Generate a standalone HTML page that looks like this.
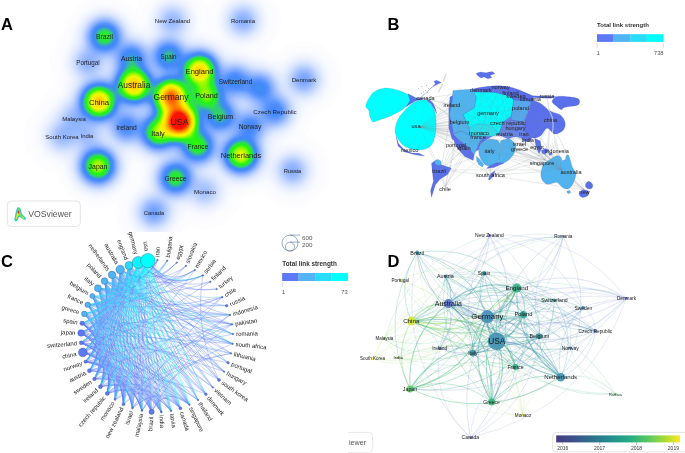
<!DOCTYPE html><html><head><meta charset="utf-8"><title>Figure</title>
<style>html,body{margin:0;padding:0;background:#fff}svg{display:block}.pl{mix-blend-mode:plus-lighter}radialGradient stop{stop-color:#fff}</style></head><body>
<svg width="685" height="453" viewBox="0 0 685 453">
<defs>
<radialGradient id="blob"><stop offset="0.0000" stop-opacity="0.9983"/><stop offset="0.0312" stop-opacity="0.9880"/><stop offset="0.0625" stop-opacity="0.9580"/><stop offset="0.0938" stop-opacity="0.9100"/><stop offset="0.1250" stop-opacity="0.8468"/><stop offset="0.1562" stop-opacity="0.7721"/><stop offset="0.1875" stop-opacity="0.6897"/><stop offset="0.2188" stop-opacity="0.6038"/><stop offset="0.2500" stop-opacity="0.5181"/><stop offset="0.2812" stop-opacity="0.4359"/><stop offset="0.3125" stop-opacity="0.3596"/><stop offset="0.3438" stop-opacity="0.2910"/><stop offset="0.3750" stop-opacity="0.2312"/><stop offset="0.4062" stop-opacity="0.1804"/><stop offset="0.4375" stop-opacity="0.1384"/><stop offset="0.4688" stop-opacity="0.1045"/><stop offset="0.5000" stop-opacity="0.0778"/><stop offset="0.5312" stop-opacity="0.0572"/><stop offset="0.5625" stop-opacity="0.0417"/><stop offset="0.5938" stop-opacity="0.0302"/><stop offset="0.6250" stop-opacity="0.0218"/><stop offset="0.6562" stop-opacity="0.0158"/><stop offset="0.6875" stop-opacity="0.0114"/><stop offset="0.7188" stop-opacity="0.0083"/><stop offset="0.7500" stop-opacity="0.0061"/><stop offset="0.7812" stop-opacity="0.0045"/><stop offset="0.8125" stop-opacity="0.0033"/><stop offset="0.8438" stop-opacity="0.0024"/><stop offset="0.8750" stop-opacity="0.0017"/><stop offset="0.9062" stop-opacity="0.0012"/><stop offset="0.9375" stop-opacity="0.0007"/><stop offset="0.9688" stop-opacity="0.0003"/><stop offset="1.0000" stop-opacity="0.0000"/></radialGradient>
<radialGradient id="b0"><stop offset="0.000" stop-opacity="1.0000"/><stop offset="0.475" stop-opacity="1.0000"/><stop offset="0.500" stop-opacity="0.7905"/><stop offset="0.525" stop-opacity="0.6189"/><stop offset="0.550" stop-opacity="0.4815"/><stop offset="0.575" stop-opacity="0.3727"/><stop offset="0.600" stop-opacity="0.2876"/><stop offset="0.625" stop-opacity="0.2216"/><stop offset="0.650" stop-opacity="0.1708"/><stop offset="0.675" stop-opacity="0.1320"/><stop offset="0.700" stop-opacity="0.1023"/><stop offset="0.725" stop-opacity="0.0797"/><stop offset="0.750" stop-opacity="0.0624"/><stop offset="0.775" stop-opacity="0.0489"/><stop offset="0.800" stop-opacity="0.0384"/><stop offset="0.825" stop-opacity="0.0300"/><stop offset="0.850" stop-opacity="0.0233"/><stop offset="0.875" stop-opacity="0.0177"/><stop offset="0.900" stop-opacity="0.0130"/><stop offset="0.925" stop-opacity="0.0090"/><stop offset="0.950" stop-opacity="0.0056"/><stop offset="0.975" stop-opacity="0.0026"/><stop offset="1.000" stop-opacity="0.0000"/></radialGradient><radialGradient id="b1"><stop offset="0.000" stop-opacity="1.0000"/><stop offset="0.425" stop-opacity="1.0000"/><stop offset="0.450" stop-opacity="0.8326"/><stop offset="0.475" stop-opacity="0.6627"/><stop offset="0.500" stop-opacity="0.5229"/><stop offset="0.525" stop-opacity="0.4094"/><stop offset="0.550" stop-opacity="0.3184"/><stop offset="0.575" stop-opacity="0.2465"/><stop offset="0.600" stop-opacity="0.1902"/><stop offset="0.625" stop-opacity="0.1466"/><stop offset="0.650" stop-opacity="0.1130"/><stop offset="0.675" stop-opacity="0.0873"/><stop offset="0.700" stop-opacity="0.0677"/><stop offset="0.725" stop-opacity="0.0527"/><stop offset="0.750" stop-opacity="0.0412"/><stop offset="0.775" stop-opacity="0.0324"/><stop offset="0.800" stop-opacity="0.0254"/><stop offset="0.825" stop-opacity="0.0199"/><stop offset="0.850" stop-opacity="0.0154"/><stop offset="0.875" stop-opacity="0.0117"/><stop offset="0.900" stop-opacity="0.0086"/><stop offset="0.925" stop-opacity="0.0060"/><stop offset="0.950" stop-opacity="0.0037"/><stop offset="0.975" stop-opacity="0.0017"/><stop offset="1.000" stop-opacity="0.0000"/></radialGradient><radialGradient id="b2"><stop offset="0.000" stop-opacity="1.0000"/><stop offset="0.375" stop-opacity="1.0000"/><stop offset="0.400" stop-opacity="0.9111"/><stop offset="0.425" stop-opacity="0.7399"/><stop offset="0.450" stop-opacity="0.5947"/><stop offset="0.475" stop-opacity="0.4734"/><stop offset="0.500" stop-opacity="0.3735"/><stop offset="0.525" stop-opacity="0.2924"/><stop offset="0.550" stop-opacity="0.2275"/><stop offset="0.575" stop-opacity="0.1761"/><stop offset="0.600" stop-opacity="0.1359"/><stop offset="0.625" stop-opacity="0.1047"/><stop offset="0.650" stop-opacity="0.0807"/><stop offset="0.675" stop-opacity="0.0624"/><stop offset="0.700" stop-opacity="0.0484"/><stop offset="0.725" stop-opacity="0.0377"/><stop offset="0.750" stop-opacity="0.0295"/><stop offset="0.775" stop-opacity="0.0231"/><stop offset="0.800" stop-opacity="0.0181"/><stop offset="0.825" stop-opacity="0.0142"/><stop offset="0.850" stop-opacity="0.0110"/><stop offset="0.875" stop-opacity="0.0084"/><stop offset="0.900" stop-opacity="0.0061"/><stop offset="0.925" stop-opacity="0.0043"/><stop offset="0.950" stop-opacity="0.0026"/><stop offset="0.975" stop-opacity="0.0012"/><stop offset="1.000" stop-opacity="0.0000"/></radialGradient><radialGradient id="b3"><stop offset="0.000" stop-opacity="1.0000"/><stop offset="0.400" stop-opacity="1.0000"/><stop offset="0.425" stop-opacity="0.8139"/><stop offset="0.450" stop-opacity="0.6542"/><stop offset="0.475" stop-opacity="0.5207"/><stop offset="0.500" stop-opacity="0.4108"/><stop offset="0.525" stop-opacity="0.3216"/><stop offset="0.550" stop-opacity="0.2502"/><stop offset="0.575" stop-opacity="0.1937"/><stop offset="0.600" stop-opacity="0.1494"/><stop offset="0.625" stop-opacity="0.1152"/><stop offset="0.650" stop-opacity="0.0888"/><stop offset="0.675" stop-opacity="0.0686"/><stop offset="0.700" stop-opacity="0.0532"/><stop offset="0.725" stop-opacity="0.0414"/><stop offset="0.750" stop-opacity="0.0324"/><stop offset="0.775" stop-opacity="0.0254"/><stop offset="0.800" stop-opacity="0.0200"/><stop offset="0.825" stop-opacity="0.0156"/><stop offset="0.850" stop-opacity="0.0121"/><stop offset="0.875" stop-opacity="0.0092"/><stop offset="0.900" stop-opacity="0.0068"/><stop offset="0.925" stop-opacity="0.0047"/><stop offset="0.950" stop-opacity="0.0029"/><stop offset="0.975" stop-opacity="0.0014"/><stop offset="1.000" stop-opacity="0.0000"/></radialGradient><radialGradient id="b4"><stop offset="0.000" stop-opacity="1.0000"/><stop offset="0.375" stop-opacity="1.0000"/><stop offset="0.400" stop-opacity="0.9718"/><stop offset="0.425" stop-opacity="0.7893"/><stop offset="0.450" stop-opacity="0.6344"/><stop offset="0.475" stop-opacity="0.5049"/><stop offset="0.500" stop-opacity="0.3984"/><stop offset="0.525" stop-opacity="0.3119"/><stop offset="0.550" stop-opacity="0.2426"/><stop offset="0.575" stop-opacity="0.1878"/><stop offset="0.600" stop-opacity="0.1449"/><stop offset="0.625" stop-opacity="0.1117"/><stop offset="0.650" stop-opacity="0.0861"/><stop offset="0.675" stop-opacity="0.0665"/><stop offset="0.700" stop-opacity="0.0516"/><stop offset="0.725" stop-opacity="0.0402"/><stop offset="0.750" stop-opacity="0.0314"/><stop offset="0.775" stop-opacity="0.0247"/><stop offset="0.800" stop-opacity="0.0193"/><stop offset="0.825" stop-opacity="0.0151"/><stop offset="0.850" stop-opacity="0.0117"/><stop offset="0.875" stop-opacity="0.0089"/><stop offset="0.900" stop-opacity="0.0066"/><stop offset="0.925" stop-opacity="0.0045"/><stop offset="0.950" stop-opacity="0.0028"/><stop offset="0.975" stop-opacity="0.0013"/><stop offset="1.000" stop-opacity="0.0000"/></radialGradient><radialGradient id="b5"><stop offset="0.000" stop-opacity="1.0000"/><stop offset="0.350" stop-opacity="1.0000"/><stop offset="0.375" stop-opacity="0.8692"/><stop offset="0.400" stop-opacity="0.7137"/><stop offset="0.425" stop-opacity="0.5796"/><stop offset="0.450" stop-opacity="0.4659"/><stop offset="0.475" stop-opacity="0.3708"/><stop offset="0.500" stop-opacity="0.2926"/><stop offset="0.525" stop-opacity="0.2290"/><stop offset="0.550" stop-opacity="0.1782"/><stop offset="0.575" stop-opacity="0.1379"/><stop offset="0.600" stop-opacity="0.1064"/><stop offset="0.625" stop-opacity="0.0820"/><stop offset="0.650" stop-opacity="0.0632"/><stop offset="0.675" stop-opacity="0.0488"/><stop offset="0.700" stop-opacity="0.0379"/><stop offset="0.725" stop-opacity="0.0295"/><stop offset="0.750" stop-opacity="0.0231"/><stop offset="0.775" stop-opacity="0.0181"/><stop offset="0.800" stop-opacity="0.0142"/><stop offset="0.825" stop-opacity="0.0111"/><stop offset="0.850" stop-opacity="0.0086"/><stop offset="0.875" stop-opacity="0.0065"/><stop offset="0.900" stop-opacity="0.0048"/><stop offset="0.925" stop-opacity="0.0033"/><stop offset="0.950" stop-opacity="0.0021"/><stop offset="0.975" stop-opacity="0.0010"/><stop offset="1.000" stop-opacity="0.0000"/></radialGradient><radialGradient id="b6"><stop offset="0.000" stop-opacity="1.0000"/><stop offset="0.325" stop-opacity="1.0000"/><stop offset="0.350" stop-opacity="0.9129"/><stop offset="0.375" stop-opacity="0.7582"/><stop offset="0.400" stop-opacity="0.6226"/><stop offset="0.425" stop-opacity="0.5056"/><stop offset="0.450" stop-opacity="0.4064"/><stop offset="0.475" stop-opacity="0.3235"/><stop offset="0.500" stop-opacity="0.2552"/><stop offset="0.525" stop-opacity="0.1998"/><stop offset="0.550" stop-opacity="0.1554"/><stop offset="0.575" stop-opacity="0.1203"/><stop offset="0.600" stop-opacity="0.0928"/><stop offset="0.625" stop-opacity="0.0715"/><stop offset="0.650" stop-opacity="0.0551"/><stop offset="0.675" stop-opacity="0.0426"/><stop offset="0.700" stop-opacity="0.0330"/><stop offset="0.725" stop-opacity="0.0257"/><stop offset="0.750" stop-opacity="0.0201"/><stop offset="0.775" stop-opacity="0.0158"/><stop offset="0.800" stop-opacity="0.0124"/><stop offset="0.825" stop-opacity="0.0097"/><stop offset="0.850" stop-opacity="0.0075"/><stop offset="0.875" stop-opacity="0.0057"/><stop offset="0.900" stop-opacity="0.0042"/><stop offset="0.925" stop-opacity="0.0029"/><stop offset="0.950" stop-opacity="0.0018"/><stop offset="0.975" stop-opacity="0.0008"/><stop offset="1.000" stop-opacity="0.0000"/></radialGradient><radialGradient id="b7"><stop offset="0.000" stop-opacity="1.0000"/><stop offset="0.300" stop-opacity="1.0000"/><stop offset="0.325" stop-opacity="0.9007"/><stop offset="0.350" stop-opacity="0.7570"/><stop offset="0.375" stop-opacity="0.6288"/><stop offset="0.400" stop-opacity="0.5163"/><stop offset="0.425" stop-opacity="0.4193"/><stop offset="0.450" stop-opacity="0.3370"/><stop offset="0.475" stop-opacity="0.2682"/><stop offset="0.500" stop-opacity="0.2116"/><stop offset="0.525" stop-opacity="0.1657"/><stop offset="0.550" stop-opacity="0.1289"/><stop offset="0.575" stop-opacity="0.0998"/><stop offset="0.600" stop-opacity="0.0770"/><stop offset="0.625" stop-opacity="0.0593"/><stop offset="0.650" stop-opacity="0.0457"/><stop offset="0.675" stop-opacity="0.0353"/><stop offset="0.700" stop-opacity="0.0274"/><stop offset="0.725" stop-opacity="0.0213"/><stop offset="0.750" stop-opacity="0.0167"/><stop offset="0.775" stop-opacity="0.0131"/><stop offset="0.800" stop-opacity="0.0103"/><stop offset="0.825" stop-opacity="0.0080"/><stop offset="0.850" stop-opacity="0.0062"/><stop offset="0.875" stop-opacity="0.0047"/><stop offset="0.900" stop-opacity="0.0035"/><stop offset="0.925" stop-opacity="0.0024"/><stop offset="0.950" stop-opacity="0.0015"/><stop offset="0.975" stop-opacity="0.0007"/><stop offset="1.000" stop-opacity="0.0000"/></radialGradient><radialGradient id="b8"><stop offset="0.000" stop-opacity="1.0000"/><stop offset="0.300" stop-opacity="1.0000"/><stop offset="0.325" stop-opacity="0.9537"/><stop offset="0.350" stop-opacity="0.8016"/><stop offset="0.375" stop-opacity="0.6658"/><stop offset="0.400" stop-opacity="0.5467"/><stop offset="0.425" stop-opacity="0.4440"/><stop offset="0.450" stop-opacity="0.3568"/><stop offset="0.475" stop-opacity="0.2840"/><stop offset="0.500" stop-opacity="0.2241"/><stop offset="0.525" stop-opacity="0.1754"/><stop offset="0.550" stop-opacity="0.1365"/><stop offset="0.575" stop-opacity="0.1056"/><stop offset="0.600" stop-opacity="0.0815"/><stop offset="0.625" stop-opacity="0.0628"/><stop offset="0.650" stop-opacity="0.0484"/><stop offset="0.675" stop-opacity="0.0374"/><stop offset="0.700" stop-opacity="0.0290"/><stop offset="0.725" stop-opacity="0.0226"/><stop offset="0.750" stop-opacity="0.0177"/><stop offset="0.775" stop-opacity="0.0139"/><stop offset="0.800" stop-opacity="0.0109"/><stop offset="0.825" stop-opacity="0.0085"/><stop offset="0.850" stop-opacity="0.0066"/><stop offset="0.875" stop-opacity="0.0050"/><stop offset="0.900" stop-opacity="0.0037"/><stop offset="0.925" stop-opacity="0.0026"/><stop offset="0.950" stop-opacity="0.0016"/><stop offset="0.975" stop-opacity="0.0007"/><stop offset="1.000" stop-opacity="0.0000"/></radialGradient><radialGradient id="b9"><stop offset="0.000" stop-opacity="1.0000"/><stop offset="0.250" stop-opacity="1.0000"/><stop offset="0.275" stop-opacity="0.9762"/><stop offset="0.300" stop-opacity="0.8408"/><stop offset="0.325" stop-opacity="0.7153"/><stop offset="0.350" stop-opacity="0.6012"/><stop offset="0.375" stop-opacity="0.4993"/><stop offset="0.400" stop-opacity="0.4100"/><stop offset="0.425" stop-opacity="0.3330"/><stop offset="0.450" stop-opacity="0.2676"/><stop offset="0.475" stop-opacity="0.2130"/><stop offset="0.500" stop-opacity="0.1681"/><stop offset="0.525" stop-opacity="0.1316"/><stop offset="0.550" stop-opacity="0.1024"/><stop offset="0.575" stop-opacity="0.0792"/><stop offset="0.600" stop-opacity="0.0611"/><stop offset="0.625" stop-opacity="0.0471"/><stop offset="0.650" stop-opacity="0.0363"/><stop offset="0.675" stop-opacity="0.0281"/><stop offset="0.700" stop-opacity="0.0218"/><stop offset="0.725" stop-opacity="0.0169"/><stop offset="0.750" stop-opacity="0.0133"/><stop offset="0.775" stop-opacity="0.0104"/><stop offset="0.800" stop-opacity="0.0082"/><stop offset="0.825" stop-opacity="0.0064"/><stop offset="0.850" stop-opacity="0.0049"/><stop offset="0.875" stop-opacity="0.0038"/><stop offset="0.900" stop-opacity="0.0028"/><stop offset="0.925" stop-opacity="0.0019"/><stop offset="0.950" stop-opacity="0.0012"/><stop offset="0.975" stop-opacity="0.0006"/><stop offset="1.000" stop-opacity="0.0000"/></radialGradient><radialGradient id="b10"><stop offset="0.000" stop-opacity="1.0000"/><stop offset="0.275" stop-opacity="1.0000"/><stop offset="0.300" stop-opacity="0.9031"/><stop offset="0.325" stop-opacity="0.7683"/><stop offset="0.350" stop-opacity="0.6457"/><stop offset="0.375" stop-opacity="0.5363"/><stop offset="0.400" stop-opacity="0.4404"/><stop offset="0.425" stop-opacity="0.3576"/><stop offset="0.450" stop-opacity="0.2874"/><stop offset="0.475" stop-opacity="0.2288"/><stop offset="0.500" stop-opacity="0.1805"/><stop offset="0.525" stop-opacity="0.1413"/><stop offset="0.550" stop-opacity="0.1099"/><stop offset="0.575" stop-opacity="0.0851"/><stop offset="0.600" stop-opacity="0.0657"/><stop offset="0.625" stop-opacity="0.0506"/><stop offset="0.650" stop-opacity="0.0390"/><stop offset="0.675" stop-opacity="0.0301"/><stop offset="0.700" stop-opacity="0.0234"/><stop offset="0.725" stop-opacity="0.0182"/><stop offset="0.750" stop-opacity="0.0142"/><stop offset="0.775" stop-opacity="0.0112"/><stop offset="0.800" stop-opacity="0.0088"/><stop offset="0.825" stop-opacity="0.0069"/><stop offset="0.850" stop-opacity="0.0053"/><stop offset="0.875" stop-opacity="0.0040"/><stop offset="0.900" stop-opacity="0.0030"/><stop offset="0.925" stop-opacity="0.0021"/><stop offset="0.950" stop-opacity="0.0013"/><stop offset="0.975" stop-opacity="0.0006"/><stop offset="1.000" stop-opacity="0.0000"/></radialGradient><radialGradient id="b11"><stop offset="0.000" stop-opacity="1.0000"/><stop offset="0.200" stop-opacity="1.0000"/><stop offset="0.225" stop-opacity="0.9385"/><stop offset="0.250" stop-opacity="0.8290"/><stop offset="0.275" stop-opacity="0.7231"/><stop offset="0.300" stop-opacity="0.6228"/><stop offset="0.325" stop-opacity="0.5298"/><stop offset="0.350" stop-opacity="0.4453"/><stop offset="0.375" stop-opacity="0.3699"/><stop offset="0.400" stop-opacity="0.3037"/><stop offset="0.425" stop-opacity="0.2466"/><stop offset="0.450" stop-opacity="0.1982"/><stop offset="0.475" stop-opacity="0.1578"/><stop offset="0.500" stop-opacity="0.1245"/><stop offset="0.525" stop-opacity="0.0975"/><stop offset="0.550" stop-opacity="0.0758"/><stop offset="0.575" stop-opacity="0.0587"/><stop offset="0.600" stop-opacity="0.0453"/><stop offset="0.625" stop-opacity="0.0349"/><stop offset="0.650" stop-opacity="0.0269"/><stop offset="0.675" stop-opacity="0.0208"/><stop offset="0.700" stop-opacity="0.0161"/><stop offset="0.725" stop-opacity="0.0126"/><stop offset="0.750" stop-opacity="0.0098"/><stop offset="0.775" stop-opacity="0.0077"/><stop offset="0.800" stop-opacity="0.0060"/><stop offset="0.825" stop-opacity="0.0047"/><stop offset="0.850" stop-opacity="0.0037"/><stop offset="0.875" stop-opacity="0.0028"/><stop offset="0.900" stop-opacity="0.0020"/><stop offset="0.925" stop-opacity="0.0014"/><stop offset="0.950" stop-opacity="0.0009"/><stop offset="0.975" stop-opacity="0.0004"/><stop offset="1.000" stop-opacity="0.0000"/></radialGradient><radialGradient id="b12"><stop offset="0.000" stop-opacity="1.0000"/><stop offset="0.250" stop-opacity="1.0000"/><stop offset="0.275" stop-opacity="0.9762"/><stop offset="0.300" stop-opacity="0.8408"/><stop offset="0.325" stop-opacity="0.7153"/><stop offset="0.350" stop-opacity="0.6012"/><stop offset="0.375" stop-opacity="0.4993"/><stop offset="0.400" stop-opacity="0.4100"/><stop offset="0.425" stop-opacity="0.3330"/><stop offset="0.450" stop-opacity="0.2676"/><stop offset="0.475" stop-opacity="0.2130"/><stop offset="0.500" stop-opacity="0.1681"/><stop offset="0.525" stop-opacity="0.1316"/><stop offset="0.550" stop-opacity="0.1024"/><stop offset="0.575" stop-opacity="0.0792"/><stop offset="0.600" stop-opacity="0.0611"/><stop offset="0.625" stop-opacity="0.0471"/><stop offset="0.650" stop-opacity="0.0363"/><stop offset="0.675" stop-opacity="0.0281"/><stop offset="0.700" stop-opacity="0.0218"/><stop offset="0.725" stop-opacity="0.0169"/><stop offset="0.750" stop-opacity="0.0133"/><stop offset="0.775" stop-opacity="0.0104"/><stop offset="0.800" stop-opacity="0.0082"/><stop offset="0.825" stop-opacity="0.0064"/><stop offset="0.850" stop-opacity="0.0049"/><stop offset="0.875" stop-opacity="0.0038"/><stop offset="0.900" stop-opacity="0.0028"/><stop offset="0.925" stop-opacity="0.0019"/><stop offset="0.950" stop-opacity="0.0012"/><stop offset="0.975" stop-opacity="0.0006"/><stop offset="1.000" stop-opacity="0.0000"/></radialGradient><radialGradient id="b13"><stop offset="0.000" stop-opacity="1.0000"/><stop offset="0.200" stop-opacity="1.0000"/><stop offset="0.225" stop-opacity="0.9385"/><stop offset="0.250" stop-opacity="0.8290"/><stop offset="0.275" stop-opacity="0.7231"/><stop offset="0.300" stop-opacity="0.6228"/><stop offset="0.325" stop-opacity="0.5298"/><stop offset="0.350" stop-opacity="0.4453"/><stop offset="0.375" stop-opacity="0.3699"/><stop offset="0.400" stop-opacity="0.3037"/><stop offset="0.425" stop-opacity="0.2466"/><stop offset="0.450" stop-opacity="0.1982"/><stop offset="0.475" stop-opacity="0.1578"/><stop offset="0.500" stop-opacity="0.1245"/><stop offset="0.525" stop-opacity="0.0975"/><stop offset="0.550" stop-opacity="0.0758"/><stop offset="0.575" stop-opacity="0.0587"/><stop offset="0.600" stop-opacity="0.0453"/><stop offset="0.625" stop-opacity="0.0349"/><stop offset="0.650" stop-opacity="0.0269"/><stop offset="0.675" stop-opacity="0.0208"/><stop offset="0.700" stop-opacity="0.0161"/><stop offset="0.725" stop-opacity="0.0126"/><stop offset="0.750" stop-opacity="0.0098"/><stop offset="0.775" stop-opacity="0.0077"/><stop offset="0.800" stop-opacity="0.0060"/><stop offset="0.825" stop-opacity="0.0047"/><stop offset="0.850" stop-opacity="0.0037"/><stop offset="0.875" stop-opacity="0.0028"/><stop offset="0.900" stop-opacity="0.0020"/><stop offset="0.925" stop-opacity="0.0014"/><stop offset="0.950" stop-opacity="0.0009"/><stop offset="0.975" stop-opacity="0.0004"/><stop offset="1.000" stop-opacity="0.0000"/></radialGradient><radialGradient id="b14"><stop offset="0.000" stop-opacity="1.0000"/><stop offset="0.150" stop-opacity="1.0000"/><stop offset="0.175" stop-opacity="0.9837"/><stop offset="0.200" stop-opacity="0.8916"/><stop offset="0.225" stop-opacity="0.7977"/><stop offset="0.250" stop-opacity="0.7047"/><stop offset="0.275" stop-opacity="0.6146"/><stop offset="0.300" stop-opacity="0.5294"/><stop offset="0.325" stop-opacity="0.4504"/><stop offset="0.350" stop-opacity="0.3785"/><stop offset="0.375" stop-opacity="0.3144"/><stop offset="0.400" stop-opacity="0.2581"/><stop offset="0.425" stop-opacity="0.2096"/><stop offset="0.450" stop-opacity="0.1685"/><stop offset="0.475" stop-opacity="0.1341"/><stop offset="0.500" stop-opacity="0.1058"/><stop offset="0.525" stop-opacity="0.0828"/><stop offset="0.550" stop-opacity="0.0644"/><stop offset="0.575" stop-opacity="0.0499"/><stop offset="0.600" stop-opacity="0.0385"/><stop offset="0.625" stop-opacity="0.0297"/><stop offset="0.650" stop-opacity="0.0229"/><stop offset="0.675" stop-opacity="0.0177"/><stop offset="0.700" stop-opacity="0.0137"/><stop offset="0.725" stop-opacity="0.0107"/><stop offset="0.750" stop-opacity="0.0083"/><stop offset="0.775" stop-opacity="0.0065"/><stop offset="0.800" stop-opacity="0.0051"/><stop offset="0.825" stop-opacity="0.0040"/><stop offset="0.850" stop-opacity="0.0031"/><stop offset="0.875" stop-opacity="0.0024"/><stop offset="0.900" stop-opacity="0.0017"/><stop offset="0.925" stop-opacity="0.0012"/><stop offset="0.950" stop-opacity="0.0007"/><stop offset="0.975" stop-opacity="0.0003"/><stop offset="1.000" stop-opacity="0.0000"/></radialGradient><radialGradient id="b15"><stop offset="0.000" stop-opacity="1.0000"/><stop offset="0.100" stop-opacity="1.0000"/><stop offset="0.125" stop-opacity="0.9484"/><stop offset="0.150" stop-opacity="0.8823"/><stop offset="0.175" stop-opacity="0.8101"/><stop offset="0.200" stop-opacity="0.7343"/><stop offset="0.225" stop-opacity="0.6570"/><stop offset="0.250" stop-opacity="0.5803"/><stop offset="0.275" stop-opacity="0.5062"/><stop offset="0.300" stop-opacity="0.4360"/><stop offset="0.325" stop-opacity="0.3709"/><stop offset="0.350" stop-opacity="0.3117"/><stop offset="0.375" stop-opacity="0.2589"/><stop offset="0.400" stop-opacity="0.2126"/><stop offset="0.425" stop-opacity="0.1727"/><stop offset="0.450" stop-opacity="0.1388"/><stop offset="0.475" stop-opacity="0.1105"/><stop offset="0.500" stop-opacity="0.0871"/><stop offset="0.525" stop-opacity="0.0682"/><stop offset="0.550" stop-opacity="0.0531"/><stop offset="0.575" stop-opacity="0.0411"/><stop offset="0.600" stop-opacity="0.0317"/><stop offset="0.625" stop-opacity="0.0244"/><stop offset="0.650" stop-opacity="0.0188"/><stop offset="0.675" stop-opacity="0.0145"/><stop offset="0.700" stop-opacity="0.0113"/><stop offset="0.725" stop-opacity="0.0088"/><stop offset="0.750" stop-opacity="0.0069"/><stop offset="0.775" stop-opacity="0.0054"/><stop offset="0.800" stop-opacity="0.0042"/><stop offset="0.825" stop-opacity="0.0033"/><stop offset="0.850" stop-opacity="0.0026"/><stop offset="0.875" stop-opacity="0.0019"/><stop offset="0.900" stop-opacity="0.0014"/><stop offset="0.925" stop-opacity="0.0010"/><stop offset="0.950" stop-opacity="0.0006"/><stop offset="0.975" stop-opacity="0.0003"/><stop offset="1.000" stop-opacity="0.0000"/></radialGradient><radialGradient id="b16"><stop offset="0.000" stop-opacity="1.0000"/><stop offset="0.050" stop-opacity="1.0000"/><stop offset="0.075" stop-opacity="0.9784"/><stop offset="0.100" stop-opacity="0.9344"/><stop offset="0.125" stop-opacity="0.8807"/><stop offset="0.150" stop-opacity="0.8193"/><stop offset="0.175" stop-opacity="0.7522"/><stop offset="0.200" stop-opacity="0.6818"/><stop offset="0.225" stop-opacity="0.6100"/><stop offset="0.250" stop-opacity="0.5389"/><stop offset="0.275" stop-opacity="0.4700"/><stop offset="0.300" stop-opacity="0.4048"/><stop offset="0.325" stop-opacity="0.3444"/><stop offset="0.350" stop-opacity="0.2894"/><stop offset="0.375" stop-opacity="0.2404"/><stop offset="0.400" stop-opacity="0.1974"/><stop offset="0.425" stop-opacity="0.1603"/><stop offset="0.450" stop-opacity="0.1289"/><stop offset="0.475" stop-opacity="0.1026"/><stop offset="0.500" stop-opacity="0.0809"/><stop offset="0.525" stop-opacity="0.0634"/><stop offset="0.550" stop-opacity="0.0493"/><stop offset="0.575" stop-opacity="0.0381"/><stop offset="0.600" stop-opacity="0.0294"/><stop offset="0.625" stop-opacity="0.0227"/><stop offset="0.650" stop-opacity="0.0175"/><stop offset="0.675" stop-opacity="0.0135"/><stop offset="0.700" stop-opacity="0.0105"/><stop offset="0.725" stop-opacity="0.0082"/><stop offset="0.750" stop-opacity="0.0064"/><stop offset="0.775" stop-opacity="0.0050"/><stop offset="0.800" stop-opacity="0.0039"/><stop offset="0.825" stop-opacity="0.0031"/><stop offset="0.850" stop-opacity="0.0024"/><stop offset="0.875" stop-opacity="0.0018"/><stop offset="0.900" stop-opacity="0.0013"/><stop offset="0.925" stop-opacity="0.0009"/><stop offset="0.950" stop-opacity="0.0006"/><stop offset="0.975" stop-opacity="0.0003"/><stop offset="1.000" stop-opacity="0.0000"/></radialGradient><radialGradient id="b18"><stop offset="0.000" stop-opacity="1.0000"/><stop offset="0.075" stop-opacity="1.0000"/><stop offset="0.100" stop-opacity="0.9703"/><stop offset="0.125" stop-opacity="0.9145"/><stop offset="0.150" stop-opacity="0.8508"/><stop offset="0.175" stop-opacity="0.7812"/><stop offset="0.200" stop-opacity="0.7080"/><stop offset="0.225" stop-opacity="0.6335"/><stop offset="0.250" stop-opacity="0.5596"/><stop offset="0.275" stop-opacity="0.4881"/><stop offset="0.300" stop-opacity="0.4204"/><stop offset="0.325" stop-opacity="0.3576"/><stop offset="0.350" stop-opacity="0.3006"/><stop offset="0.375" stop-opacity="0.2497"/><stop offset="0.400" stop-opacity="0.2050"/><stop offset="0.425" stop-opacity="0.1665"/><stop offset="0.450" stop-opacity="0.1338"/><stop offset="0.475" stop-opacity="0.1065"/><stop offset="0.500" stop-opacity="0.0840"/><stop offset="0.525" stop-opacity="0.0658"/><stop offset="0.550" stop-opacity="0.0512"/><stop offset="0.575" stop-opacity="0.0396"/><stop offset="0.600" stop-opacity="0.0306"/><stop offset="0.625" stop-opacity="0.0236"/><stop offset="0.650" stop-opacity="0.0182"/><stop offset="0.675" stop-opacity="0.0140"/><stop offset="0.700" stop-opacity="0.0109"/><stop offset="0.725" stop-opacity="0.0085"/><stop offset="0.750" stop-opacity="0.0066"/><stop offset="0.775" stop-opacity="0.0052"/><stop offset="0.800" stop-opacity="0.0041"/><stop offset="0.825" stop-opacity="0.0032"/><stop offset="0.850" stop-opacity="0.0025"/><stop offset="0.875" stop-opacity="0.0019"/><stop offset="0.900" stop-opacity="0.0014"/><stop offset="0.925" stop-opacity="0.0010"/><stop offset="0.950" stop-opacity="0.0006"/><stop offset="0.975" stop-opacity="0.0003"/><stop offset="1.000" stop-opacity="0.0000"/></radialGradient><radialGradient id="b19"><stop offset="0.000" stop-opacity="1.0000"/><stop offset="0.100" stop-opacity="1.0000"/><stop offset="0.125" stop-opacity="0.9484"/><stop offset="0.150" stop-opacity="0.8823"/><stop offset="0.175" stop-opacity="0.8101"/><stop offset="0.200" stop-opacity="0.7343"/><stop offset="0.225" stop-opacity="0.6570"/><stop offset="0.250" stop-opacity="0.5803"/><stop offset="0.275" stop-opacity="0.5062"/><stop offset="0.300" stop-opacity="0.4360"/><stop offset="0.325" stop-opacity="0.3709"/><stop offset="0.350" stop-opacity="0.3117"/><stop offset="0.375" stop-opacity="0.2589"/><stop offset="0.400" stop-opacity="0.2126"/><stop offset="0.425" stop-opacity="0.1727"/><stop offset="0.450" stop-opacity="0.1388"/><stop offset="0.475" stop-opacity="0.1105"/><stop offset="0.500" stop-opacity="0.0871"/><stop offset="0.525" stop-opacity="0.0682"/><stop offset="0.550" stop-opacity="0.0531"/><stop offset="0.575" stop-opacity="0.0411"/><stop offset="0.600" stop-opacity="0.0317"/><stop offset="0.625" stop-opacity="0.0244"/><stop offset="0.650" stop-opacity="0.0188"/><stop offset="0.675" stop-opacity="0.0145"/><stop offset="0.700" stop-opacity="0.0113"/><stop offset="0.725" stop-opacity="0.0088"/><stop offset="0.750" stop-opacity="0.0069"/><stop offset="0.775" stop-opacity="0.0054"/><stop offset="0.800" stop-opacity="0.0042"/><stop offset="0.825" stop-opacity="0.0033"/><stop offset="0.850" stop-opacity="0.0026"/><stop offset="0.875" stop-opacity="0.0019"/><stop offset="0.900" stop-opacity="0.0014"/><stop offset="0.925" stop-opacity="0.0010"/><stop offset="0.950" stop-opacity="0.0006"/><stop offset="0.975" stop-opacity="0.0003"/><stop offset="1.000" stop-opacity="0.0000"/></radialGradient>
<filter id="heatL" filterUnits="userSpaceOnUse" x="0" y="0" width="343" height="232" color-interpolation-filters="sRGB">
<feColorMatrix type="matrix" values="0 0 0 1 0  0 0 0 1 0  0 0 0 1 0  0 0 0 0 1"/>
<feComponentTransfer><feFuncR type="table" tableValues="1.000 0.995 0.989 0.984 0.978 0.973 0.968 0.962 0.957 0.953 0.949 0.945 0.941 0.937 0.933 0.929 0.925 0.922 0.918 0.914 0.910 0.906 0.902 0.898 0.894 0.891 0.887 0.884 0.880 0.877 0.873 0.870 0.866 0.863 0.859 0.856 0.852 0.849 0.846 0.842 0.839 0.835 0.832 0.828 0.825 0.821 0.818 0.814 0.811 0.807 0.804 0.801 0.797 0.794 0.791 0.788 0.785 0.781 0.778 0.775 0.772 0.768 0.765 0.762 0.759 0.755 0.752 0.749 0.746 0.742 0.739 0.736 0.733 0.730 0.726 0.723 0.720 0.717 0.713 0.710 0.707 0.704 0.700 0.697 0.694 0.691 0.687 0.684 0.681 0.678 0.675 0.672 0.669 0.666 0.664 0.661 0.658 0.655 0.653 0.650 0.647 0.644 0.642 0.639 0.636 0.633 0.631 0.628 0.625 0.622 0.620 0.617 0.614 0.611 0.609 0.606 0.603 0.600 0.598 0.595 0.592 0.589 0.587 0.584 0.581 0.578 0.576 0.573 0.570 0.567 0.565 0.562 0.559 0.556 0.554 0.551 0.548 0.545 0.543 0.540 0.537 0.535 0.532 0.529 0.527 0.524 0.522 0.519 0.516 0.514 0.511 0.508 0.506 0.503 0.501 0.498 0.495 0.493 0.490 0.488 0.485 0.482 0.480 0.477 0.475 0.472 0.469 0.467 0.464 0.461 0.459 0.456 0.454 0.451 0.448 0.446 0.443 0.441 0.438 0.435 0.433 0.430 0.427 0.425 0.422 0.420 0.417 0.414 0.412 0.409 0.407 0.404 0.401 0.399 0.396 0.393 0.391 0.388 0.386 0.383 0.380 0.379 0.378 0.376 0.375 0.373 0.372 0.370 0.369 0.368 0.366 0.365 0.363 0.362 0.360 0.359 0.358 0.356 0.355 0.353 0.352 0.351 0.349 0.348 0.346 0.345 0.343 0.342 0.341 0.339 0.338 0.336 0.335 0.333 0.332 0.331 0.329 0.328 0.326 0.325 0.324 0.322 0.321 0.319 0.318 0.316 0.315 0.314 0.312 0.311 0.309"/><feFuncG type="table" tableValues="1.000 0.996 0.992 0.988 0.984 0.980 0.976 0.973 0.969 0.966 0.963 0.961 0.958 0.955 0.952 0.950 0.947 0.944 0.942 0.939 0.936 0.934 0.931 0.928 0.925 0.923 0.921 0.919 0.916 0.914 0.912 0.910 0.907 0.905 0.903 0.901 0.898 0.896 0.894 0.892 0.889 0.887 0.885 0.883 0.880 0.878 0.876 0.873 0.871 0.869 0.867 0.864 0.862 0.860 0.858 0.855 0.853 0.851 0.849 0.846 0.844 0.842 0.840 0.837 0.835 0.833 0.831 0.828 0.826 0.824 0.822 0.819 0.817 0.815 0.813 0.810 0.808 0.806 0.804 0.801 0.799 0.797 0.795 0.792 0.790 0.788 0.785 0.783 0.781 0.779 0.776 0.775 0.773 0.771 0.770 0.768 0.766 0.764 0.763 0.761 0.759 0.757 0.756 0.754 0.752 0.751 0.749 0.747 0.745 0.744 0.742 0.740 0.739 0.737 0.735 0.733 0.732 0.730 0.728 0.726 0.725 0.723 0.721 0.720 0.718 0.716 0.714 0.713 0.711 0.709 0.707 0.706 0.704 0.702 0.701 0.699 0.697 0.695 0.694 0.692 0.690 0.689 0.687 0.686 0.684 0.683 0.681 0.680 0.678 0.677 0.675 0.674 0.672 0.671 0.669 0.668 0.666 0.665 0.663 0.662 0.660 0.659 0.657 0.656 0.654 0.653 0.651 0.650 0.648 0.647 0.645 0.644 0.642 0.641 0.639 0.638 0.636 0.635 0.633 0.632 0.630 0.629 0.627 0.626 0.624 0.623 0.621 0.620 0.618 0.617 0.615 0.614 0.612 0.611 0.609 0.608 0.606 0.605 0.603 0.602 0.600 0.599 0.598 0.598 0.597 0.596 0.595 0.594 0.593 0.593 0.592 0.591 0.590 0.589 0.588 0.588 0.587 0.586 0.585 0.584 0.583 0.583 0.582 0.581 0.580 0.579 0.578 0.577 0.577 0.576 0.575 0.574 0.573 0.573 0.572 0.571 0.570 0.569 0.568 0.568 0.567 0.566 0.565 0.564 0.563 0.562 0.562 0.561 0.560 0.559 0.558"/><feFuncB type="table" tableValues="1.000 1.000 1.000 1.000 1.000 1.000 1.000 1.000 1.000 1.000 1.000 1.000 1.000 1.000 1.000 1.000 1.000 1.000 1.000 1.000 1.000 1.000 1.000 1.000 1.000 1.000 1.000 1.000 1.000 1.000 1.000 1.000 1.000 1.000 1.000 1.000 1.000 1.000 1.000 1.000 1.000 1.000 1.000 1.000 1.000 1.000 1.000 1.000 1.000 1.000 1.000 1.000 1.000 1.000 1.000 1.000 1.000 1.000 1.000 1.000 1.000 1.000 1.000 1.000 1.000 1.000 1.000 1.000 1.000 1.000 1.000 1.000 1.000 1.000 1.000 1.000 1.000 1.000 1.000 1.000 1.000 1.000 1.000 1.000 1.000 1.000 1.000 1.000 1.000 1.000 1.000 1.000 1.000 1.000 1.000 1.000 1.000 1.000 1.000 1.000 1.000 1.000 1.000 1.000 1.000 1.000 1.000 1.000 1.000 1.000 1.000 1.000 1.000 1.000 1.000 1.000 1.000 1.000 1.000 1.000 1.000 1.000 1.000 1.000 1.000 1.000 1.000 1.000 1.000 1.000 1.000 1.000 1.000 1.000 1.000 1.000 1.000 1.000 1.000 1.000 1.000 1.000 1.000 1.000 1.000 1.000 1.000 1.000 1.000 1.000 1.000 1.000 1.000 1.000 1.000 1.000 1.000 1.000 1.000 1.000 1.000 1.000 1.000 1.000 1.000 1.000 1.000 1.000 1.000 1.000 1.000 1.000 1.000 1.000 1.000 1.000 1.000 1.000 1.000 1.000 1.000 1.000 1.000 1.000 1.000 1.000 1.000 1.000 1.000 1.000 1.000 1.000 1.000 1.000 1.000 1.000 1.000 1.000 1.000 1.000 1.000 1.000 1.000 1.000 0.999 0.999 0.999 0.999 0.999 0.999 0.999 0.998 0.998 0.998 0.998 0.998 0.998 0.998 0.997 0.997 0.997 0.997 0.997 0.997 0.996 0.996 0.996 0.996 0.996 0.996 0.996 0.995 0.995 0.995 0.995 0.995 0.995 0.995 0.994 0.994 0.994 0.994 0.994 0.994 0.994 0.993 0.993 0.993 0.993 0.993 0.993"/></feComponentTransfer>
</filter>
<filter id="heatH" filterUnits="userSpaceOnUse" x="0" y="0" width="343" height="232" color-interpolation-filters="sRGB">
<feColorMatrix type="matrix" values="0 0 0 1 0  0 0 0 1 0  0 0 0 1 0  0 0 0 1 0"/>
<feComponentTransfer><feFuncR type="table" tableValues="1.000 0.957 0.925 0.894 0.866 0.839 0.811 0.785 0.759 0.733 0.707 0.681 0.658 0.636 0.614 0.592 0.570 0.548 0.527 0.506 0.485 0.464 0.443 0.422 0.401 0.380 0.369 0.358 0.346 0.335 0.324 0.312 0.301 0.289 0.278 0.267 0.262 0.258 0.253 0.249 0.244 0.240 0.235 0.231 0.227 0.224 0.220 0.217 0.214 0.211 0.208 0.205 0.202 0.198 0.195 0.192 0.189 0.186 0.183 0.180 0.176 0.172 0.167 0.162 0.158 0.153 0.148 0.144 0.139 0.134 0.129 0.125 0.120 0.128 0.149 0.170 0.191 0.212 0.233 0.254 0.275 0.295 0.316 0.337 0.358 0.379 0.400 0.421 0.442 0.463 0.484 0.505 0.525 0.546 0.567 0.588 0.604 0.620 0.635 0.651 0.667 0.682 0.698 0.714 0.729 0.745 0.761 0.776 0.792 0.808 0.824 0.839 0.855 0.871 0.886 0.902 0.918 0.933 0.942 0.944 0.947 0.949 0.951 0.953 0.955 0.957 0.959 0.961 0.964 0.966 0.968 0.970 0.972 0.974 0.976 0.979 0.981 0.983 0.985 0.987 0.989 0.991 0.994 0.996 0.998 1.000 1.000 1.000 1.000 1.000 1.000 1.000 1.000 1.000 1.000 1.000 1.000 1.000 1.000 1.000 1.000 1.000 1.000 1.000 1.000 1.000 1.000 1.000 1.000 1.000 1.000 1.000 1.000 1.000 1.000 1.000 1.000 1.000 1.000 1.000 1.000 1.000 1.000 1.000 1.000 1.000 1.000 1.000 1.000 1.000 1.000 1.000 1.000 1.000 1.000 1.000 1.000 1.000 1.000 1.000 1.000 1.000 1.000 1.000 1.000 1.000 1.000 1.000 1.000 1.000 1.000 1.000 1.000 1.000 1.000 1.000 1.000 1.000 1.000 1.000 1.000 0.999 0.999 0.998 0.997 0.997 0.996 0.995 0.995 0.994 0.993 0.993 0.992 0.992 0.991 0.990 0.990 0.989 0.988 0.988 0.987 0.986 0.986 0.985 0.984 0.984 0.983 0.982 0.982 0.981 0.980"/><feFuncG type="table" tableValues="1.000 0.969 0.947 0.925 0.907 0.889 0.871 0.853 0.835 0.817 0.799 0.781 0.766 0.752 0.739 0.725 0.711 0.697 0.684 0.672 0.660 0.648 0.636 0.624 0.612 0.600 0.593 0.587 0.580 0.573 0.567 0.560 0.553 0.547 0.540 0.533 0.540 0.546 0.552 0.558 0.565 0.571 0.577 0.584 0.593 0.614 0.635 0.656 0.677 0.698 0.719 0.740 0.758 0.775 0.792 0.809 0.826 0.843 0.860 0.877 0.894 0.899 0.905 0.910 0.915 0.921 0.926 0.931 0.937 0.942 0.947 0.953 0.958 0.961 0.962 0.963 0.964 0.965 0.966 0.966 0.967 0.968 0.969 0.970 0.971 0.972 0.973 0.973 0.974 0.975 0.976 0.977 0.978 0.979 0.980 0.980 0.980 0.980 0.980 0.980 0.980 0.980 0.980 0.980 0.980 0.980 0.980 0.980 0.980 0.980 0.980 0.980 0.980 0.980 0.980 0.980 0.980 0.980 0.979 0.975 0.971 0.968 0.964 0.961 0.957 0.954 0.950 0.947 0.943 0.939 0.936 0.932 0.929 0.925 0.922 0.918 0.914 0.911 0.907 0.904 0.900 0.897 0.893 0.889 0.886 0.882 0.875 0.868 0.861 0.853 0.846 0.839 0.831 0.824 0.817 0.810 0.802 0.795 0.788 0.780 0.773 0.766 0.759 0.751 0.744 0.737 0.729 0.722 0.715 0.708 0.700 0.693 0.686 0.678 0.671 0.664 0.657 0.649 0.642 0.635 0.627 0.620 0.612 0.604 0.596 0.588 0.580 0.573 0.565 0.557 0.549 0.541 0.533 0.525 0.518 0.510 0.502 0.494 0.486 0.478 0.471 0.463 0.455 0.447 0.439 0.431 0.424 0.416 0.408 0.400 0.392 0.384 0.376 0.369 0.361 0.353 0.345 0.337 0.329 0.322 0.314 0.306 0.298 0.290 0.282 0.275 0.267 0.259 0.251 0.243 0.235 0.227 0.220 0.212 0.204 0.196 0.188 0.180 0.173 0.165 0.157 0.149 0.141 0.133 0.125 0.118 0.110 0.102 0.094 0.086 0.078"/><feFuncB type="table" tableValues="1.000 1.000 1.000 1.000 1.000 1.000 1.000 1.000 1.000 1.000 1.000 1.000 1.000 1.000 1.000 1.000 1.000 1.000 1.000 1.000 1.000 1.000 1.000 1.000 1.000 1.000 0.999 0.998 0.996 0.995 0.994 0.993 0.992 0.991 0.989 0.988 0.976 0.964 0.952 0.940 0.928 0.916 0.904 0.891 0.873 0.833 0.794 0.755 0.716 0.676 0.637 0.598 0.561 0.525 0.490 0.454 0.418 0.382 0.346 0.310 0.275 0.259 0.243 0.227 0.212 0.196 0.180 0.165 0.149 0.133 0.118 0.102 0.086 0.077 0.073 0.070 0.066 0.063 0.059 0.056 0.052 0.049 0.045 0.042 0.038 0.035 0.031 0.028 0.024 0.021 0.017 0.014 0.010 0.007 0.003 0.000 0.000 0.000 0.000 0.000 0.000 0.000 0.000 0.000 0.000 0.000 0.000 0.000 0.000 0.000 0.000 0.000 0.000 0.000 0.000 0.000 0.000 0.000 0.000 0.000 0.000 0.000 0.000 0.000 0.000 0.000 0.000 0.000 0.000 0.000 0.000 0.000 0.000 0.000 0.000 0.000 0.000 0.000 0.000 0.000 0.000 0.000 0.000 0.000 0.000 0.000 0.000 0.000 0.000 0.000 0.000 0.000 0.000 0.000 0.000 0.000 0.000 0.000 0.000 0.000 0.000 0.000 0.000 0.000 0.000 0.000 0.000 0.000 0.000 0.000 0.000 0.000 0.000 0.000 0.000 0.000 0.000 0.000 0.000 0.000 0.000 0.000 0.000 0.000 0.000 0.000 0.000 0.000 0.000 0.000 0.000 0.000 0.000 0.000 0.000 0.000 0.000 0.000 0.000 0.000 0.000 0.000 0.000 0.000 0.000 0.000 0.000 0.000 0.000 0.000 0.000 0.000 0.000 0.000 0.000 0.000 0.000 0.000 0.000 0.000 0.000 0.000 0.000 0.000 0.000 0.000 0.000 0.000 0.000 0.000 0.000 0.000 0.000 0.000 0.000 0.000 0.000 0.000 0.000 0.000 0.000 0.000 0.000 0.000 0.000 0.000 0.000 0.000 0.000 0.000 0.000"/><feFuncA type="table" tableValues="0.00 0.00 0.00 0.00 0.00 0.00 0.00 0.00 0.00 0.00 0.00 0.00 0.00 0.00 0.00 0.00 0.00 0.00 0.00 0.00 0.00 0.00 0.00 0.00 0.00 0.00 0.20 0.40 0.60 0.80 1.00 1.00 1.00 1.00 1.00 1.00 1.00 1.00 1.00 1.00 1.00 1.00 1.00 1.00 1.00 1.00 1.00 1.00 1.00 1.00 1.00 1.00 1.00 1.00 1.00 1.00 1.00 1.00 1.00 1.00 1.00 1.00 1.00 1.00 1.00 1.00 1.00 1.00 1.00 1.00 1.00 1.00 1.00 1.00 1.00 1.00 1.00 1.00 1.00 1.00 1.00 1.00 1.00 1.00 1.00 1.00 1.00 1.00 1.00 1.00 1.00 1.00 1.00 1.00 1.00 1.00 1.00 1.00 1.00 1.00 1.00 1.00 1.00 1.00 1.00 1.00 1.00 1.00 1.00 1.00 1.00 1.00 1.00 1.00 1.00 1.00 1.00 1.00 1.00 1.00 1.00 1.00 1.00 1.00 1.00 1.00 1.00 1.00 1.00 1.00 1.00 1.00 1.00 1.00 1.00 1.00 1.00 1.00 1.00 1.00 1.00 1.00 1.00 1.00 1.00 1.00 1.00 1.00 1.00 1.00 1.00 1.00 1.00 1.00 1.00 1.00 1.00 1.00 1.00 1.00 1.00 1.00 1.00 1.00 1.00 1.00 1.00 1.00 1.00 1.00 1.00 1.00 1.00 1.00 1.00 1.00 1.00 1.00 1.00 1.00 1.00 1.00 1.00 1.00 1.00 1.00 1.00 1.00 1.00 1.00 1.00 1.00 1.00 1.00 1.00 1.00 1.00 1.00 1.00 1.00 1.00 1.00 1.00 1.00 1.00 1.00 1.00 1.00 1.00 1.00 1.00 1.00 1.00 1.00 1.00 1.00 1.00 1.00 1.00 1.00 1.00 1.00 1.00 1.00 1.00 1.00 1.00 1.00 1.00 1.00 1.00 1.00 1.00 1.00 1.00 1.00 1.00 1.00 1.00 1.00 1.00 1.00 1.00 1.00 1.00 1.00 1.00 1.00 1.00 1.00 1.00"/></feComponentTransfer>
</filter>
<linearGradient id="vir" x1="0" x2="1" y1="0" y2="0"><stop offset="0" stop-color="#443a83"/><stop offset="0.15" stop-color="#3b528b"/><stop offset="0.3" stop-color="#2c728e"/><stop offset="0.45" stop-color="#21908c"/><stop offset="0.6" stop-color="#27ad81"/><stop offset="0.75" stop-color="#5cc863"/><stop offset="0.88" stop-color="#aadc32"/><stop offset="1" stop-color="#fde725"/></linearGradient>
</defs>
<rect width="685" height="453" fill="#fff"/>
<g filter="url(#heatL)" style="isolation:isolate">
<rect x="0" y="0" width="343" height="232" fill="#000" fill-opacity="0"/>
<circle class="pl" cx="179.5" cy="121.5" r="44" fill="url(#b0)"/>
<circle class="pl" cx="171.0" cy="96.5" r="44" fill="url(#b1)"/>
<circle class="pl" cx="199.5" cy="70.5" r="44" fill="url(#b2)"/>
<circle class="pl" cx="134.0" cy="85.0" r="44" fill="url(#b3)"/>
<circle class="pl" cx="99.0" cy="101.5" r="44" fill="url(#b4)"/>
<circle class="pl" cx="241.0" cy="155.0" r="44" fill="url(#b5)"/>
<circle class="pl" cx="98.0" cy="166.0" r="44" fill="url(#b6)"/>
<circle class="pl" cx="206.5" cy="95.0" r="44" fill="url(#b7)"/>
<circle class="pl" cx="158.0" cy="132.5" r="44" fill="url(#b8)"/>
<circle class="pl" cx="175.5" cy="178.0" r="44" fill="url(#b9)"/>
<circle class="pl" cx="198.0" cy="146.0" r="44" fill="url(#b10)"/>
<circle class="pl" cx="220.5" cy="116.0" r="44" fill="url(#b11)"/>
<circle class="pl" cx="104.5" cy="36.5" r="44" fill="url(#b12)"/>
<circle class="pl" cx="168.5" cy="56.0" r="44" fill="url(#b13)"/>
<circle class="pl" cx="131.5" cy="58.5" r="44" fill="url(#b14)"/>
<circle class="pl" cx="235.5" cy="81.0" r="44" fill="url(#b15)"/>
<circle class="pl" cx="126.5" cy="127.0" r="44" fill="url(#b16)"/>
<circle class="pl" cx="250.0" cy="126.5" r="44" fill="url(#blob)" opacity="1.000"/>
<circle class="pl" cx="275.0" cy="111.0" r="44" fill="url(#b18)"/>
<circle class="pl" cx="260.0" cy="88.0" r="44" fill="url(#b19)"/>
<circle class="pl" cx="88.0" cy="62.5" r="44" fill="url(#blob)" opacity="0.520"/>
<circle class="pl" cx="74.0" cy="118.5" r="44" fill="url(#blob)" opacity="0.400"/>
<circle class="pl" cx="62.0" cy="136.5" r="44" fill="url(#blob)" opacity="0.440"/>
<circle class="pl" cx="87.0" cy="135.5" r="44" fill="url(#blob)" opacity="0.360"/>
<circle class="pl" cx="172.5" cy="20.5" r="44" fill="url(#blob)" opacity="0.480"/>
<circle class="pl" cx="243.0" cy="20.5" r="44" fill="url(#blob)" opacity="0.560"/>
<circle class="pl" cx="304.0" cy="79.5" r="44" fill="url(#blob)" opacity="0.680"/>
<circle class="pl" cx="292.5" cy="170.5" r="44" fill="url(#blob)" opacity="0.576"/>
<circle class="pl" cx="205.0" cy="191.0" r="44" fill="url(#blob)" opacity="0.400"/>
<circle class="pl" cx="154.0" cy="212.0" r="44" fill="url(#blob)" opacity="0.720"/>
</g>
<g filter="url(#heatH)" style="isolation:isolate">
<rect x="0" y="0" width="343" height="232" fill="#000" fill-opacity="0"/>
<circle class="pl" cx="179.5" cy="121.5" r="44" fill="url(#blob)"/>
<circle class="pl" cx="179.5" cy="121.5" r="44" fill="url(#blob)" opacity="0.270"/>
<circle class="pl" cx="171.0" cy="96.5" r="44" fill="url(#blob)" opacity="0.840"/>
<circle class="pl" cx="199.5" cy="70.5" r="44" fill="url(#blob)" opacity="0.600"/>
<circle class="pl" cx="134.0" cy="85.0" r="44" fill="url(#blob)" opacity="0.660"/>
<circle class="pl" cx="99.0" cy="101.5" r="44" fill="url(#blob)" opacity="0.640"/>
<circle class="pl" cx="241.0" cy="155.0" r="44" fill="url(#blob)" opacity="0.470"/>
<circle class="pl" cx="98.0" cy="166.0" r="44" fill="url(#blob)" opacity="0.410"/>
<circle class="pl" cx="206.5" cy="95.0" r="44" fill="url(#blob)" opacity="0.340"/>
<circle class="pl" cx="158.0" cy="132.5" r="44" fill="url(#blob)" opacity="0.360"/>
<circle class="pl" cx="175.5" cy="178.0" r="44" fill="url(#blob)" opacity="0.270"/>
<circle class="pl" cx="198.0" cy="146.0" r="44" fill="url(#blob)" opacity="0.290"/>
<circle class="pl" cx="220.5" cy="116.0" r="44" fill="url(#blob)" opacity="0.200"/>
<circle class="pl" cx="104.5" cy="36.5" r="44" fill="url(#blob)" opacity="0.270"/>
<circle class="pl" cx="168.5" cy="56.0" r="44" fill="url(#blob)" opacity="0.200"/>
<circle class="pl" cx="131.5" cy="58.5" r="44" fill="url(#blob)" opacity="0.170"/>
<circle class="pl" cx="235.5" cy="81.0" r="44" fill="url(#blob)" opacity="0.140"/>
<circle class="pl" cx="126.5" cy="127.0" r="44" fill="url(#blob)" opacity="0.130"/>
<circle class="pl" cx="250.0" cy="126.5" r="44" fill="url(#blob)" opacity="0.125"/>
<circle class="pl" cx="275.0" cy="111.0" r="44" fill="url(#blob)" opacity="0.135"/>
<circle class="pl" cx="260.0" cy="88.0" r="44" fill="url(#blob)" opacity="0.140"/>
<circle class="pl" cx="88.0" cy="62.5" r="44" fill="url(#blob)" opacity="0.065"/>
<circle class="pl" cx="74.0" cy="118.5" r="44" fill="url(#blob)" opacity="0.050"/>
<circle class="pl" cx="62.0" cy="136.5" r="44" fill="url(#blob)" opacity="0.055"/>
<circle class="pl" cx="87.0" cy="135.5" r="44" fill="url(#blob)" opacity="0.045"/>
<circle class="pl" cx="172.5" cy="20.5" r="44" fill="url(#blob)" opacity="0.060"/>
<circle class="pl" cx="243.0" cy="20.5" r="44" fill="url(#blob)" opacity="0.070"/>
<circle class="pl" cx="304.0" cy="79.5" r="44" fill="url(#blob)" opacity="0.085"/>
<circle class="pl" cx="292.5" cy="170.5" r="44" fill="url(#blob)" opacity="0.072"/>
<circle class="pl" cx="205.0" cy="191.0" r="44" fill="url(#blob)" opacity="0.050"/>
<circle class="pl" cx="154.0" cy="212.0" r="44" fill="url(#blob)" opacity="0.090"/>
</g>
<g font-family='&quot;Liberation Sans&quot;, sans-serif' text-anchor="middle" fill="#222">
<text x="179.5" y="125.1" font-size="8.9">USA</text>
<text x="171.0" y="100.0" font-size="8.5">Germany</text>
<text x="199.5" y="73.6" font-size="7.6">England</text>
<text x="134.0" y="88.4" font-size="8.4">Australia</text>
<text x="99.0" y="104.7" font-size="7.7">China</text>
<text x="241.0" y="158.1" font-size="7.5">Netherlands</text>
<text x="98.0" y="168.9" font-size="6.9">Japan</text>
<text x="206.5" y="98.0" font-size="7.3">Poland</text>
<text x="158.0" y="135.5" font-size="7.3">Italy</text>
<text x="175.5" y="180.8" font-size="6.7">Greece</text>
<text x="198.0" y="148.8" font-size="6.7">France</text>
<text x="220.5" y="118.9" font-size="7.0">Belgium</text>
<text x="104.5" y="39.3" font-size="6.8">Brazil</text>
<text x="168.5" y="58.7" font-size="6.3">Spain</text>
<text x="131.5" y="61.3" font-size="6.7">Austria</text>
<text x="235.5" y="83.7" font-size="6.5">Switzerland</text>
<text x="126.5" y="129.8" font-size="6.7">Ireland</text>
<text x="250.0" y="129.3" font-size="6.7">Norway</text>
<text x="275.0" y="113.6" font-size="6.2">Czech Republic</text>
<text x="88.0" y="65.2" font-size="6.3">Portugal</text>
<text x="74.0" y="121.1" font-size="6.0">Malaysia</text>
<text x="62.0" y="139.1" font-size="6.0">South Korea</text>
<text x="87.0" y="138.0" font-size="5.9">India</text>
<text x="172.5" y="23.1" font-size="6.0">New Zealand</text>
<text x="243.0" y="23.1" font-size="6.0">Romania</text>
<text x="304.0" y="82.1" font-size="6.1">Denmark</text>
<text x="292.5" y="173.0" font-size="5.8">Russia</text>
<text x="205.0" y="193.6" font-size="6.2">Monaco</text>
<text x="154.0" y="214.5" font-size="5.8">Canada</text>
</g>
<path d="M420.0 127.0L452.0 105.5M420.0 127.0L459.5 122.5M420.0 127.0L481.0 90.0M420.0 127.0L500.5 87.5M420.0 127.0L510.5 93.0M420.0 127.0L488.0 113.0M420.0 127.0L520.5 108.0M420.0 127.0L508.0 123.0M420.0 127.0L515.5 128.5M420.0 127.0L504.5 134.0M420.0 127.0L479.0 133.0M420.0 127.0L478.0 136.5M420.0 127.0L456.0 145.0M420.0 127.0L464.0 148.5M420.0 127.0L489.5 151.5M420.0 127.0L441.0 170.0M420.0 127.0L445.0 187.0M420.0 127.0L491.0 175.5M420.0 127.0L562.0 170.0M420.0 127.0L545.0 160.0M420.0 127.0L512.0 149.5M420.0 127.0L519.5 144.0M420.0 127.0L550.5 120.0M420.0 127.0L409.5 150.0M420.0 127.0L425.5 98.5M420.0 127.0L528.0 140.0M562.0 170.0L452.0 105.5M562.0 170.0L459.5 122.5M562.0 170.0L488.0 113.0M562.0 170.0L520.5 108.0M562.0 170.0L508.0 123.0M562.0 170.0L504.5 134.0M562.0 170.0L478.0 136.5M562.0 170.0L464.0 148.5M562.0 170.0L489.5 151.5M562.0 170.0L512.0 149.5M562.0 170.0L519.5 144.0M562.0 170.0L537.0 147.0M562.0 170.0L548.0 151.5M562.0 170.0L545.0 160.0M562.0 170.0L550.5 120.0M562.0 170.0L528.0 140.0M562.0 170.0L491.0 175.5M562.0 170.0L584.5 190.0M562.0 170.0L441.0 170.0M562.0 170.0L524.0 134.0M562.0 170.0L481.0 90.0M441.0 170.0L456.0 145.0M441.0 170.0L464.0 148.5M441.0 170.0L478.0 136.5M441.0 170.0L489.5 151.5M441.0 170.0L488.0 113.0M441.0 170.0L459.5 122.5M441.0 170.0L452.0 105.5M441.0 170.0L445.0 187.0M441.0 170.0L491.0 175.5M445.0 187.0L456.0 145.0M445.0 187.0L464.0 148.5M445.0 187.0L478.0 136.5M445.0 187.0L489.5 151.5M445.0 187.0L488.0 113.0M445.0 187.0L459.5 122.5M491.0 175.5L489.5 151.5M491.0 175.5L512.0 149.5M491.0 175.5L488.0 113.0M491.0 175.5L478.0 136.5M491.0 175.5L464.0 148.5M491.0 175.5L545.0 160.0M491.0 175.5L548.0 151.5M491.0 175.5L528.0 140.0M491.0 175.5L584.5 190.0M584.5 190.0L489.5 151.5M584.5 190.0L512.0 149.5M584.5 190.0L545.0 160.0M584.5 190.0L550.5 120.0M584.5 190.0L488.0 113.0M584.5 190.0L528.0 140.0M584.5 190.0L548.0 151.5M545.0 160.0L550.5 120.0M545.0 160.0L528.0 140.0M545.0 160.0L489.5 151.5M545.0 160.0L512.0 149.5M545.0 160.0L488.0 113.0M545.0 160.0L548.0 151.5M545.0 160.0L537.0 147.0M550.5 120.0L548.0 151.5M550.5 120.0L537.0 147.0M550.5 120.0L528.0 140.0M550.5 120.0L519.5 144.0M550.5 120.0L512.0 149.5M550.5 120.0L547.0 97.0M425.5 98.5L452.0 105.5M425.5 98.5L459.5 122.5M425.5 98.5L481.0 90.0M425.5 98.5L488.0 113.0M425.5 98.5L478.0 136.5M420.0 127.0L450.5 93.0M420.0 127.0L450.5 96.6M420.0 127.0L450.5 100.2M420.0 127.0L450.5 103.8M420.0 127.0L450.5 107.4M420.0 127.0L450.5 111.0M420.0 127.0L450.5 114.6M420.0 127.0L450.5 118.2M420.0 127.0L450.5 121.8M420.0 127.0L450.5 125.4M420.0 127.0L450.5 129.0M420.0 127.0L450.5 132.6M420.0 127.0L450.5 136.2M420.0 127.0L450.5 139.8M562.0 170.0L541.0 150.0M562.0 170.0L543.2 148.5M562.0 170.0L545.4 147.0M562.0 170.0L547.6 145.5M562.0 170.0L549.8 144.0M562.0 170.0L552.0 142.5M562.0 170.0L554.2 141.0M562.0 170.0L556.4 139.5" stroke="#c6c6c6" stroke-width="0.3" stroke-opacity="0.8" fill="none"/>
<g stroke="#3a4a9a" stroke-width="0.3" stroke-opacity="0.55" stroke-linejoin="round">
<path d="M396.0 136.0L398.5 143.5L404.5 150.0L412.0 153.0L419.0 153.3L424.6 156.0L420.0 155.6L414.0 154.6L405.0 152.0L398.0 146.0Z" fill="#5a70eb"/>
<path d="M368.9 98.5C370.1 96.7 371.4 93.6 374.0 91.9C376.6 90.2 380.6 88.6 384.2 88.2C387.8 87.8 392.2 88.8 395.9 89.7C399.5 90.6 402.7 91.8 406.1 93.4C409.5 95.0 415.8 97.4 416.3 99.2C416.8 101.0 411.7 102.3 409.0 104.3C406.3 106.2 403.7 108.8 400.3 110.9C396.9 113.0 392.5 115.1 388.6 116.7C384.7 118.3 379.6 119.6 376.9 120.4C374.2 121.2 373.7 122.3 372.5 121.5C371.3 120.7 370.2 117.1 369.6 115.3C369.0 113.5 369.5 112.4 368.9 110.9C368.3 109.4 366.3 107.8 365.9 106.5C365.5 105.2 366.2 104.1 366.7 102.8C367.2 101.5 367.7 100.3 368.9 98.5Z" fill="#00ffff"/>
<path d="M425.1 99.9C422.2 99.5 417.0 100.7 413.4 102.8C409.8 104.9 405.9 109.2 403.2 112.3C400.5 115.3 398.6 117.9 397.3 121.1C396.0 124.3 394.9 128.2 395.1 131.3C395.3 134.4 396.5 136.9 398.3 139.5C400.1 142.1 402.7 145.4 405.9 147.1C409.1 148.8 413.7 149.8 417.3 149.9C420.9 150.1 425.0 149.4 427.7 148.0C430.4 146.6 432.0 144.4 433.4 141.4C434.8 138.4 435.5 133.6 435.9 130.0C436.3 126.4 436.2 123.2 436.0 120.0C435.8 116.8 435.4 113.5 434.5 111.0C433.6 108.5 432.5 106.8 430.9 105.0C429.3 103.2 428.0 100.3 425.1 99.9Z" fill="#00ffff"/>
<path d="M408.0 93.8L416.0 98.0L425.0 98.5L415.0 101.0L406.0 106.8L410.0 100.5Z" fill="#5a70eb"/>
<path d="M420.5 97.5L433.0 86.5L441.3 82.6L436.5 80.2L433.8 81.5L435.5 83.8L422.5 96.0Z" fill="#5a70eb"/>
<path d="M426.5 100.2L431.0 104.0L436.8 113.5L435.2 108.0L433.0 103.0L429.5 99.8Z" fill="#5a70eb"/>
<path d="M476.0 73.5L480.0 72.0L486.0 72.8L492.0 71.6L495.0 73.5L490.0 75.5L492.0 77.5L488.0 78.8L484.0 77.0L481.0 78.0L478.0 76.0Z" fill="#5a70eb"/>
<path d="M453.0 92.0L531.0 101.0L524.0 122.0L526.0 133.5L515.0 137.0L499.0 135.0L470.0 136.0L454.0 134.0Z" fill="#6684ea"/>
<path d="M450.0 97.0L453.5 95.0L453.5 134.0L457.0 141.0L452.0 139.0L448.8 128.0L448.8 108.0Z" fill="#5a70eb"/>
<path d="M472.0 89.5C473.8 88.5 480.3 87.4 485.0 86.8C489.7 86.2 495.5 85.7 500.0 85.8C504.5 85.9 508.0 86.5 512.0 87.5C516.0 88.5 520.5 90.4 524.0 92.0C527.5 93.6 531.8 95.3 533.0 97.0C534.2 98.7 534.7 101.4 531.5 102.0C528.3 102.6 517.4 101.4 513.6 100.5C509.9 99.6 512.2 97.8 509.0 96.5C505.8 95.2 500.4 93.7 494.6 93.0C488.8 92.3 478.0 93.1 474.2 92.5C470.4 91.9 470.2 90.5 472.0 89.5Z" fill="#5a70eb"/>
<path d="M453.0 90.4L473.5 89.0L476.4 97.7L474.2 107.9L463.2 114.5L469.1 127.6L470.5 135.7L461.0 131.0L453.8 133.5L449.4 114.5L452.3 99.9Z" fill="#50b4f0"/>
<path d="M474.2 91.9L494.6 92.6L509.2 96.2L513.6 99.9L511.4 116.0L503.4 121.8L499.0 133.5L491.7 136.4L470.5 135.7L469.1 127.6L463.2 114.5L474.2 107.9L476.4 97.7Z" fill="#00ffff"/>
<path d="M470.5 135.7L469.1 127.6L478.0 124.0L492.0 126.0L499.0 133.5L491.7 136.4Z" fill="#22e8f4"/>
<path d="M513.6 99.9L531.1 101.4L526.8 114.5L523.8 121.8L511.4 120.3L511.4 116.0Z" fill="#55a8ec"/>
<path d="M503.4 121.8L511.4 120.3L523.8 121.8L526.0 133.5L521.0 138.0L515.0 136.4L508.0 139.0L499.0 135.0L499.0 133.5Z" fill="#6684ea"/>
<path d="M453.8 133.5L461.0 131.0L470.5 135.7L484.0 136.2L480.0 141.0L476.0 150.9L474.2 154.7L468.5 147.1L460.9 141.4Z" fill="#50b4f0"/>
<path d="M453.3 133.8L460.9 141.4L468.5 147.1L474.2 154.7L473.2 160.4L464.7 156.6L457.1 148.0L453.3 139.5Z" fill="#5a70eb"/>
<path d="M484.0 136.2L491.7 136.4L486.0 140.0L480.5 144.5L478.5 150.0L476.0 150.9L480.0 141.0Z" fill="#5a70eb"/>
<path d="M480.7 144.2C481.8 142.1 483.9 141.2 485.6 140.4C487.3 139.6 488.8 139.1 491.0 139.3C493.2 139.5 497.1 139.5 498.7 141.4C500.3 143.3 500.8 147.4 500.6 150.9C500.5 154.4 499.7 159.8 497.8 162.3C495.9 164.8 491.7 166.0 489.2 166.0C486.7 166.0 484.3 164.5 482.6 162.3C480.9 160.1 479.1 155.8 478.8 152.8C478.5 149.8 479.6 146.3 480.7 144.2Z" fill="#50b4f0"/>
<path d="M476.3 156.5L478.6 158.0L483.7 164.5L482.5 167.0L478.5 164.5L476.8 160.5Z" fill="#50b4f0"/>
<path d="M500.6 141.4C501.5 139.5 504.3 139.6 506.0 139.3C507.7 139.0 509.4 138.5 511.0 139.8C512.6 141.1 515.6 144.3 515.8 147.1C516.0 149.9 514.0 153.9 512.0 156.6C509.9 159.3 505.7 162.2 503.5 163.2C501.3 164.1 499.2 164.4 498.7 162.3C498.2 160.2 500.3 154.4 500.6 150.9C500.9 147.4 499.7 143.3 500.6 141.4Z" fill="#50b4f0"/>
<path d="M489.2 166.0L497.8 162.3L503.5 163.2L494.0 167.5L486.5 168.5Z" fill="#5a70eb"/>
<path d="M494.9 170.8L493.8 176.0L489.2 180.3L488.3 179.2L491.0 173.5Z" fill="#5a70eb"/>
<path d="M524.0 92.5L533.0 95.8L545.0 96.3L556.6 96.6L551.0 98.2L540.0 98.0L532.0 97.6Z" fill="#5a70eb"/>
<path d="M556.6 96.8C558.9 96.0 562.4 96.2 566.0 96.6C569.6 96.9 576.3 97.6 578.4 98.9C580.5 100.2 579.7 103.3 578.6 104.5C577.5 105.7 574.4 105.8 572.0 106.3C569.6 106.8 566.0 107.0 564.2 107.6C562.4 108.2 562.6 109.9 561.3 109.7C560.0 109.5 558.0 107.6 556.5 106.2C555.0 104.8 552.0 103.1 552.0 101.5C552.0 99.9 554.3 97.6 556.6 96.8Z" fill="#5a70eb"/>
<path d="M531.9 100.8C533.5 100.3 536.3 101.0 539.5 102.7C542.7 104.4 547.4 109.2 550.9 111.2C554.4 113.2 558.0 113.1 560.4 115.0C562.8 116.9 564.6 120.1 565.1 122.6C565.6 125.1 564.9 128.3 563.2 130.2C561.5 132.1 557.4 134.3 554.7 134.0C552.0 133.7 549.5 128.0 547.1 128.3C544.7 128.6 543.0 134.3 540.5 135.9C538.0 137.5 534.4 138.4 531.9 137.8C529.4 137.2 526.5 134.7 525.3 132.1C524.1 129.5 524.2 125.0 524.5 122.0C524.8 119.0 526.3 116.8 527.2 114.0C528.1 111.2 529.2 107.7 530.0 105.5C530.8 103.3 530.3 101.3 531.9 100.8Z" fill="#5a70eb"/>
<path d="M521.0 138.0L526.0 133.5L531.9 137.8L530.0 141.5L525.0 141.5Z" fill="#5a70eb"/>
<path d="M534.5 138.2L540.3 141.0L541.6 148.5L539.0 153.8L536.5 148.0L535.3 143.0Z" fill="#5a70eb"/>
<path d="M541.5 150.5L545.0 148.6L548.8 149.8L547.5 152.2L544.5 154.5L542.0 153.0Z" fill="#5a70eb"/>
<path d="M548.5 153.5L551.5 152.6L552.6 154.2L549.5 155.6Z" fill="#5a70eb"/>
<path d="M541.2 171.5C541.6 169.6 542.4 166.3 543.5 164.5C544.6 162.7 545.8 162.2 548.0 160.8C550.2 159.4 554.7 156.4 556.8 155.8C558.9 155.2 559.9 156.5 560.8 157.2C561.7 157.9 561.3 159.8 562.0 160.2C562.7 160.6 564.5 160.3 565.2 159.6C565.9 158.9 565.4 156.7 566.0 156.0C566.6 155.3 567.9 154.6 568.6 155.4C569.4 156.2 569.9 159.1 570.5 161.0C571.1 162.9 571.3 164.9 572.2 167.0C573.1 169.1 575.4 171.4 575.8 173.6C576.2 175.8 575.3 177.9 574.6 180.0C573.9 182.1 572.6 184.5 571.5 186.0C570.4 187.5 569.3 188.7 568.0 189.0C566.7 189.3 564.8 188.6 563.5 188.0C562.2 187.4 561.6 186.4 560.5 185.5C559.4 184.6 558.6 182.7 557.0 182.4C555.4 182.1 552.8 183.5 551.0 183.8C549.2 184.1 547.9 184.6 546.5 184.0C545.1 183.4 543.4 181.8 542.5 180.5C541.6 179.2 541.2 177.5 541.0 176.0C540.8 174.5 540.8 173.4 541.2 171.5Z" fill="#50b4f0"/>
<path d="M567.0 191.0L569.5 190.5L570.8 192.2L569.0 193.8L567.2 193.0Z" fill="#50b4f0"/>
<path d="M586.0 183.5C586.6 182.6 587.9 181.0 589.0 181.2C590.1 181.4 592.1 183.3 592.6 184.5C593.1 185.7 592.6 187.6 591.8 188.3C591.0 189.0 589.0 189.1 588.0 188.8C587.0 188.5 585.8 187.4 585.5 186.5C585.2 185.6 585.4 184.4 586.0 183.5Z" fill="#5a70eb"/>
<path d="M579.4 193.0C579.9 192.0 581.4 190.1 583.0 189.8C584.6 189.6 588.0 190.6 588.8 191.5C589.6 192.4 589.0 194.5 588.0 195.5C587.0 196.5 584.3 197.3 583.0 197.4C581.7 197.5 580.6 196.7 580.0 196.0C579.4 195.3 578.9 194.0 579.4 193.0Z" fill="#5a70eb"/>
<path d="M431.5 163.2L435.3 160.4L441.9 165.1L451.4 168.0L447.6 174.6L440.0 179.3L435.3 185.0L432.4 194.5L431.5 197.4L430.5 190.7L433.4 181.2L432.4 171.7Z" fill="#5a70eb"/>
<path d="M434.5 162.0C434.6 161.0 436.4 159.5 437.5 159.4C438.6 159.3 440.5 160.6 441.0 161.5C441.5 162.4 441.2 164.2 440.5 164.8C439.8 165.4 438.0 165.8 437.0 165.3C436.0 164.8 434.4 163.0 434.5 162.0Z" fill="#50b4f0"/>
</g>
<path d="M420.0 127.0L452.0 105.5M420.0 127.0L459.5 122.5M420.0 127.0L481.0 90.0M420.0 127.0L500.5 87.5M420.0 127.0L510.5 93.0M420.0 127.0L488.0 113.0M420.0 127.0L520.5 108.0M420.0 127.0L508.0 123.0M420.0 127.0L515.5 128.5M420.0 127.0L504.5 134.0M420.0 127.0L479.0 133.0M420.0 127.0L478.0 136.5M420.0 127.0L456.0 145.0M420.0 127.0L464.0 148.5M420.0 127.0L489.5 151.5M420.0 127.0L441.0 170.0M420.0 127.0L445.0 187.0M420.0 127.0L491.0 175.5M420.0 127.0L562.0 170.0M420.0 127.0L545.0 160.0M420.0 127.0L512.0 149.5M420.0 127.0L519.5 144.0M420.0 127.0L550.5 120.0M420.0 127.0L409.5 150.0M420.0 127.0L425.5 98.5M420.0 127.0L528.0 140.0M562.0 170.0L452.0 105.5M562.0 170.0L459.5 122.5M562.0 170.0L488.0 113.0M562.0 170.0L520.5 108.0M562.0 170.0L508.0 123.0M562.0 170.0L504.5 134.0M562.0 170.0L478.0 136.5M562.0 170.0L464.0 148.5M562.0 170.0L489.5 151.5M562.0 170.0L512.0 149.5M562.0 170.0L519.5 144.0M562.0 170.0L537.0 147.0M562.0 170.0L548.0 151.5M562.0 170.0L545.0 160.0M562.0 170.0L550.5 120.0M562.0 170.0L528.0 140.0M562.0 170.0L491.0 175.5M562.0 170.0L584.5 190.0M562.0 170.0L441.0 170.0M562.0 170.0L524.0 134.0M562.0 170.0L481.0 90.0M441.0 170.0L456.0 145.0M441.0 170.0L464.0 148.5M441.0 170.0L478.0 136.5M441.0 170.0L489.5 151.5M441.0 170.0L488.0 113.0M441.0 170.0L459.5 122.5M441.0 170.0L452.0 105.5M441.0 170.0L445.0 187.0M441.0 170.0L491.0 175.5M445.0 187.0L456.0 145.0M445.0 187.0L464.0 148.5M445.0 187.0L478.0 136.5M445.0 187.0L489.5 151.5M445.0 187.0L488.0 113.0M445.0 187.0L459.5 122.5M491.0 175.5L489.5 151.5M491.0 175.5L512.0 149.5M491.0 175.5L488.0 113.0M491.0 175.5L478.0 136.5M491.0 175.5L464.0 148.5M491.0 175.5L545.0 160.0M491.0 175.5L548.0 151.5M491.0 175.5L528.0 140.0M491.0 175.5L584.5 190.0M584.5 190.0L489.5 151.5M584.5 190.0L512.0 149.5M584.5 190.0L545.0 160.0M584.5 190.0L550.5 120.0M584.5 190.0L488.0 113.0M584.5 190.0L528.0 140.0M584.5 190.0L548.0 151.5M545.0 160.0L550.5 120.0M545.0 160.0L528.0 140.0M545.0 160.0L489.5 151.5M545.0 160.0L512.0 149.5M545.0 160.0L488.0 113.0M545.0 160.0L548.0 151.5M545.0 160.0L537.0 147.0M550.5 120.0L548.0 151.5M550.5 120.0L537.0 147.0M550.5 120.0L528.0 140.0M550.5 120.0L519.5 144.0M550.5 120.0L512.0 149.5M550.5 120.0L547.0 97.0M425.5 98.5L452.0 105.5M425.5 98.5L459.5 122.5M425.5 98.5L481.0 90.0M425.5 98.5L488.0 113.0M425.5 98.5L478.0 136.5M420.0 127.0L450.5 93.0M420.0 127.0L450.5 96.6M420.0 127.0L450.5 100.2M420.0 127.0L450.5 103.8M420.0 127.0L450.5 107.4M420.0 127.0L450.5 111.0M420.0 127.0L450.5 114.6M420.0 127.0L450.5 118.2M420.0 127.0L450.5 121.8M420.0 127.0L450.5 125.4M420.0 127.0L450.5 129.0M420.0 127.0L450.5 132.6M420.0 127.0L450.5 136.2M420.0 127.0L450.5 139.8M562.0 170.0L541.0 150.0M562.0 170.0L543.2 148.5M562.0 170.0L545.4 147.0M562.0 170.0L547.6 145.5M562.0 170.0L549.8 144.0M562.0 170.0L552.0 142.5M562.0 170.0L554.2 141.0M562.0 170.0L556.4 139.5M452.0 105.5L459.5 122.5M452.0 105.5L481.0 90.0M452.0 105.5L500.5 87.5M452.0 105.5L510.5 93.0M452.0 105.5L488.0 113.0M452.0 105.5L520.5 108.0M452.0 105.5L508.0 123.0M452.0 105.5L515.5 128.5M452.0 105.5L504.5 134.0M452.0 105.5L479.0 133.0M452.0 105.5L478.0 136.5M452.0 105.5L489.5 151.5M452.0 105.5L512.0 149.5M452.0 105.5L464.0 148.5M459.5 122.5L481.0 90.0M459.5 122.5L500.5 87.5M459.5 122.5L510.5 93.0M459.5 122.5L488.0 113.0M459.5 122.5L520.5 108.0M459.5 122.5L508.0 123.0M459.5 122.5L515.5 128.5M459.5 122.5L504.5 134.0M459.5 122.5L479.0 133.0M459.5 122.5L478.0 136.5M459.5 122.5L489.5 151.5M459.5 122.5L512.0 149.5M459.5 122.5L464.0 148.5M481.0 90.0L500.5 87.5M481.0 90.0L510.5 93.0M481.0 90.0L488.0 113.0M481.0 90.0L520.5 108.0M481.0 90.0L508.0 123.0M481.0 90.0L515.5 128.5M481.0 90.0L504.5 134.0M481.0 90.0L479.0 133.0M481.0 90.0L478.0 136.5M481.0 90.0L489.5 151.5M481.0 90.0L512.0 149.5M481.0 90.0L464.0 148.5M500.5 87.5L510.5 93.0M500.5 87.5L488.0 113.0M500.5 87.5L520.5 108.0M500.5 87.5L508.0 123.0M500.5 87.5L515.5 128.5M500.5 87.5L504.5 134.0M500.5 87.5L479.0 133.0M500.5 87.5L478.0 136.5M500.5 87.5L489.5 151.5M500.5 87.5L512.0 149.5M500.5 87.5L464.0 148.5M510.5 93.0L488.0 113.0M510.5 93.0L520.5 108.0M510.5 93.0L508.0 123.0M510.5 93.0L515.5 128.5M510.5 93.0L504.5 134.0M510.5 93.0L479.0 133.0M510.5 93.0L478.0 136.5M510.5 93.0L489.5 151.5M510.5 93.0L512.0 149.5M510.5 93.0L464.0 148.5M488.0 113.0L520.5 108.0M488.0 113.0L508.0 123.0M488.0 113.0L515.5 128.5M488.0 113.0L504.5 134.0M488.0 113.0L479.0 133.0M488.0 113.0L478.0 136.5M488.0 113.0L489.5 151.5M488.0 113.0L512.0 149.5M488.0 113.0L464.0 148.5M520.5 108.0L508.0 123.0M520.5 108.0L515.5 128.5M520.5 108.0L504.5 134.0M520.5 108.0L479.0 133.0M520.5 108.0L478.0 136.5M520.5 108.0L489.5 151.5M520.5 108.0L512.0 149.5M520.5 108.0L464.0 148.5M508.0 123.0L515.5 128.5M508.0 123.0L504.5 134.0M508.0 123.0L479.0 133.0M508.0 123.0L478.0 136.5M508.0 123.0L489.5 151.5M508.0 123.0L512.0 149.5M508.0 123.0L464.0 148.5M515.5 128.5L504.5 134.0M515.5 128.5L479.0 133.0M515.5 128.5L478.0 136.5M515.5 128.5L489.5 151.5M515.5 128.5L512.0 149.5M515.5 128.5L464.0 148.5M504.5 134.0L479.0 133.0M504.5 134.0L478.0 136.5M504.5 134.0L489.5 151.5M504.5 134.0L512.0 149.5M504.5 134.0L464.0 148.5M479.0 133.0L478.0 136.5M479.0 133.0L489.5 151.5M479.0 133.0L512.0 149.5M479.0 133.0L464.0 148.5M478.0 136.5L489.5 151.5M478.0 136.5L512.0 149.5M478.0 136.5L464.0 148.5M489.5 151.5L512.0 149.5M489.5 151.5L464.0 148.5M512.0 149.5L464.0 148.5M550.5 120.0L488.0 113.0M550.5 120.0L520.5 108.0M550.5 120.0L508.0 123.0M550.5 120.0L515.5 128.5M550.5 120.0L528.0 140.0M550.5 120.0L547.0 97.0M550.5 120.0L530.5 99.0M550.5 120.0L524.0 134.0M550.5 120.0L537.0 147.0M550.5 120.0L548.0 151.5M550.5 120.0L519.5 144.0" stroke="#8a8f9c" stroke-width="0.3" stroke-opacity="0.28" fill="none"/>
<path d="M536.5 100.5C545 104 552.5 112 553 122C553.3 127 552.8 131 552 134" stroke="#fff" stroke-width="0.7" fill="none" stroke-opacity="0.9"/>
<path d="M446 74.6L443.2 81.2M442.3 84.4L438.6 91.8" stroke="#d6d6d6" stroke-width="1.2" stroke-linecap="round" fill="none"/>
<g fill="#5a70eb"><circle cx="418.8" cy="88.7" r="0.45"/><circle cx="421.4" cy="86.4" r="0.45"/><circle cx="426.5" cy="85.3" r="0.45"/><circle cx="428.7" cy="88.2" r="0.45"/><circle cx="423.6" cy="91.9" r="0.45"/><circle cx="421.4" cy="93.4" r="0.45"/><circle cx="425.5" cy="90.4" r="0.45"/><circle cx="427.6" cy="92.6" r="0.45"/></g>
<path d="M366.2 107.3l1.6 1.6M372.8 121.8l7-2.2M381.5 119l6-3" stroke="#00ffff" stroke-width="0.8" stroke-linecap="round" fill="none"/>
<g font-family="&quot;Liberation Sans&quot;, sans-serif" font-size="5.6" text-anchor="middle" fill="#222">
<text x="425.5" y="100.4">canada</text>
<text x="416.0" y="128.4">usa</text>
<text x="409.5" y="151.9">mexico</text>
<text x="439.0" y="173.4">brazil</text>
<text x="445.0" y="190.9">chile</text>
<text x="452.0" y="107.4">ireland</text>
<text x="459.5" y="124.4">belgium</text>
<text x="481.0" y="91.9">denmark</text>
<text x="500.5" y="89.4">norway</text>
<text x="510.5" y="94.9">finland</text>
<text x="516.0" y="98.2">sweden</text>
<text x="530.5" y="100.9">lithuania</text>
<text x="547.0" y="97.9">russia</text>
<text x="488.0" y="114.9">germany</text>
<text x="520.5" y="109.9">poland</text>
<text x="508.0" y="124.9">czech republic</text>
<text x="515.5" y="130.4">hungary</text>
<text x="504.5" y="135.9">austria</text>
<text x="524.0" y="135.9">iran</text>
<text x="479.0" y="134.9">monaco</text>
<text x="478.0" y="138.7">france</text>
<text x="456.0" y="146.9">portugal</text>
<text x="464.0" y="150.4">spain</text>
<text x="489.5" y="153.4">italy</text>
<text x="550.5" y="121.9">china</text>
<text x="528.0" y="141.9">india</text>
<text x="519.5" y="145.9">israel</text>
<text x="519.5" y="151.4">greece</text>
<text x="537.0" y="148.9">egypt</text>
<text x="557.0" y="153.4">indonesia</text>
<text x="542.0" y="165.4">singapore</text>
<text x="571.0" y="174.4">australia</text>
<text x="490.5" y="177.4">south africa</text>
<text x="584.5" y="194.4">new</text>
</g>
<text x="597" y="27.3" font-family="&quot;Liberation Sans&quot;, sans-serif" font-size="6.05" font-weight="bold" fill="#333">Total link strength</text>
<rect x="597.00" y="34.2" width="16.70" height="7.7" fill="#5f78f5"/>
<rect x="613.60" y="34.2" width="16.70" height="7.7" fill="#50b4f5"/>
<rect x="630.20" y="34.2" width="16.70" height="7.7" fill="#28dcfa"/>
<rect x="646.80" y="34.2" width="16.70" height="7.7" fill="#00ffff"/>
<path d="M597.2 43.5V47.5M663.3 43.5V47.5" stroke="#9aa8e8" stroke-width="0.5"/>
<text x="596.8" y="55.4" font-family="&quot;Liberation Sans&quot;, sans-serif" font-size="5.6" fill="#555">1</text>
<text x="663.4" y="55.4" font-family="&quot;Liberation Sans&quot;, sans-serif" font-size="5.6" fill="#555" text-anchor="end">738</text>
<rect x="0" y="232" width="348" height="221" fill="#fff"/>
<path d="M157.5 260.0Q144.7 287.6 120.2 269.5M157.5 260.0Q139.3 291.5 104.5 281.0M157.5 260.0Q137.1 293.9 97.9 288.2M147.8 260.6Q128.1 309.3 81.1 333.0M147.8 260.6Q128.1 312.7 81.3 342.8M147.8 260.6Q145.6 334.8 132.5 408.0M147.8 260.6Q155.4 336.1 161.3 411.9M147.8 260.6Q179.7 309.7 233.0 334.1M147.8 260.6Q172.0 291.9 210.3 281.8M138.2 262.4Q124.8 310.0 81.1 333.0M138.2 262.4Q129.3 325.6 94.4 379.0M138.2 262.4Q142.3 335.4 132.5 408.0M138.2 262.4Q145.5 336.3 142.0 410.5M138.2 262.4Q148.8 336.7 151.6 411.8M138.2 262.4Q166.2 290.4 202.9 275.4M129.0 265.4Q122.0 307.7 82.1 323.3M129.0 265.4Q121.7 311.0 81.1 333.0M129.0 265.4Q121.7 314.3 81.3 342.8M129.0 265.4Q123.2 320.7 85.5 361.7M129.0 265.4Q124.5 323.8 89.4 370.7M129.0 265.4Q126.2 326.6 94.4 379.0M129.0 265.4Q133.2 333.5 115.1 399.4M129.0 265.4Q136.1 335.2 123.5 404.2M129.0 265.4Q139.2 336.4 132.5 408.0M129.0 265.4Q142.4 337.3 142.0 410.5M129.0 265.4Q145.6 337.8 151.6 411.8M129.0 265.4Q148.9 337.8 161.3 411.9M129.0 265.4Q152.2 337.4 171.0 410.7M129.0 265.4Q161.4 333.7 198.0 400.0M129.0 265.4Q164.1 331.8 205.9 394.2M129.0 265.4Q170.3 324.1 224.1 371.6M129.0 265.4Q173.2 314.6 232.6 343.8M120.2 269.5Q119.0 309.1 82.1 323.3M120.2 269.5Q118.7 315.7 81.3 342.8M120.2 269.5Q119.2 319.0 82.8 352.4M120.2 269.5Q120.2 322.2 85.5 361.7M120.2 269.5Q123.2 328.0 94.4 379.0M120.2 269.5Q125.2 330.6 100.4 386.7M120.2 269.5Q127.6 333.0 107.3 393.5M120.2 269.5Q130.2 335.0 115.1 399.4M120.2 269.5Q133.1 336.6 123.5 404.2M120.2 269.5Q146.0 339.2 161.3 411.9M120.2 269.5Q152.4 338.0 180.4 408.3M120.2 269.5Q155.5 336.8 189.5 404.7M120.2 269.5Q165.6 328.3 219.0 379.9M120.2 269.5Q170.0 309.5 232.1 324.4M120.2 269.5Q160.1 292.8 202.9 275.4M120.2 269.5Q151.2 288.4 176.8 262.6M120.2 269.5Q148.0 287.8 167.2 260.7M112.0 274.8Q120.4 329.8 94.4 379.0M112.0 274.8Q122.4 332.4 100.4 386.7M112.0 274.8Q127.4 336.7 115.1 399.4M112.0 274.8Q130.3 338.4 123.5 404.2M112.0 274.8Q133.4 339.7 132.5 408.0M112.0 274.8Q136.6 340.5 142.0 410.5M112.0 274.8Q139.9 341.0 151.6 411.8M112.0 274.8Q143.2 341.0 161.3 411.9M112.0 274.8Q152.7 338.5 189.5 404.7M112.0 274.8Q158.3 335.0 205.9 394.2M112.0 274.8Q167.4 317.8 232.6 343.8M112.0 274.8Q154.5 292.8 194.8 270.0M104.5 281.0Q113.7 313.0 82.1 323.3M104.5 281.0Q113.3 316.3 81.1 333.0M104.5 281.0Q113.4 319.6 81.3 342.8M104.5 281.0Q113.9 322.9 82.8 352.4M104.5 281.0Q114.8 326.1 85.5 361.7M104.5 281.0Q116.2 329.1 89.4 370.7M104.5 281.0Q119.9 334.6 100.4 386.7M104.5 281.0Q122.3 336.9 107.3 393.5M104.5 281.0Q127.8 340.5 123.5 404.2M104.5 281.0Q130.8 341.8 132.5 408.0M104.5 281.0Q134.0 342.6 142.0 410.5M104.5 281.0Q137.3 343.1 151.6 411.8M104.5 281.0Q150.2 340.7 189.5 404.7M104.5 281.0Q162.0 329.4 224.1 371.6M104.5 281.0Q164.7 313.4 232.1 324.4M97.9 288.2Q111.7 325.3 82.8 352.4M97.9 288.2Q113.9 331.5 89.4 370.7M97.9 288.2Q120.0 339.3 107.3 393.5M97.9 288.2Q122.7 341.3 115.1 399.4M97.9 288.2Q125.5 343.0 123.5 404.2M97.9 288.2Q131.8 345.1 142.0 410.5M97.9 288.2Q135.1 345.5 151.6 411.8M97.9 288.2Q138.4 345.5 161.3 411.9M97.9 288.2Q144.9 344.3 180.4 408.3M97.9 288.2Q148.0 343.1 189.5 404.7M97.9 288.2Q153.5 339.5 205.9 394.2M97.9 288.2Q161.7 312.6 230.0 314.9M92.3 296.1Q109.8 328.0 82.8 352.4M92.3 296.1Q110.7 331.2 85.5 361.7M92.3 296.1Q112.0 334.2 89.4 370.7M92.3 296.1Q113.7 337.1 94.4 379.0M92.3 296.1Q115.7 339.7 100.4 386.7M92.3 296.1Q118.1 342.0 107.3 393.5M92.3 296.1Q120.7 344.0 115.1 399.4M92.3 296.1Q123.6 345.7 123.5 404.2M92.3 296.1Q129.9 347.8 142.0 410.5M92.3 296.1Q133.2 348.2 151.6 411.8M92.3 296.1Q139.8 347.8 171.0 410.7M92.3 296.1Q143.0 347.0 180.4 408.3M92.3 296.1Q146.0 345.8 189.5 404.7M92.3 296.1Q154.0 340.0 212.9 387.5M87.7 304.8Q107.6 324.4 81.1 333.0M87.7 304.8Q109.1 334.1 85.5 361.7M87.7 304.8Q110.5 337.2 89.4 370.7M87.7 304.8Q114.2 342.6 100.4 386.7M87.7 304.8Q116.6 344.9 107.3 393.5M87.7 304.8Q122.1 348.6 123.5 404.2M87.7 304.8Q125.1 349.8 132.5 408.0M87.7 304.8Q134.9 351.2 161.3 411.9M87.7 304.8Q141.4 350.0 180.4 408.3M87.7 304.8Q152.5 342.9 212.9 387.5M84.3 313.9Q106.8 324.2 82.1 323.3M84.3 313.9Q106.5 330.8 81.3 342.8M84.3 313.9Q108.0 337.2 85.5 361.7M84.3 313.9Q111.0 343.1 94.4 379.0M84.3 313.9Q115.4 348.0 107.3 393.5M84.3 313.9Q120.9 351.7 123.5 404.2M84.3 313.9Q130.4 354.2 151.6 411.8M84.3 313.9Q140.3 353.1 180.4 408.3M84.3 313.9Q146.2 350.2 198.0 400.0M84.3 313.9Q153.4 343.4 219.0 379.9M84.3 313.9Q158.0 331.1 232.6 343.8M84.3 313.9Q142.1 304.6 186.0 265.8M82.1 323.3Q105.7 330.7 81.1 333.0M82.1 323.3Q105.8 334.0 81.3 342.8M82.1 323.3Q106.3 337.3 82.8 352.4M82.1 323.3Q107.2 340.5 85.5 361.7M82.1 323.3Q108.5 343.5 89.4 370.7M82.1 323.3Q110.2 346.3 94.4 379.0M82.1 323.3Q112.3 348.9 100.4 386.7M82.1 323.3Q114.6 351.3 107.3 393.5M82.1 323.3Q117.3 353.3 115.1 399.4M82.1 323.3Q120.1 354.9 123.5 404.2M82.1 323.3Q123.2 356.2 132.5 408.0M82.1 323.3Q126.4 357.0 142.0 410.5M82.1 323.3Q129.7 357.5 151.6 411.8M82.1 323.3Q133.0 357.5 161.3 411.9M82.1 323.3Q136.3 357.1 171.0 410.7M82.1 323.3Q142.6 355.1 189.5 404.7M82.1 323.3Q156.7 337.6 231.0 353.4M82.1 323.3Q156.3 324.5 230.0 314.9M81.1 333.0Q105.4 337.3 81.3 342.8M81.1 333.0Q105.9 340.6 82.8 352.4M81.1 333.0Q106.9 343.7 85.5 361.7M81.1 333.0Q108.2 346.8 89.4 370.7M81.1 333.0Q109.9 349.6 94.4 379.0M81.1 333.0Q111.9 352.2 100.4 386.7M81.1 333.0Q114.3 354.5 107.3 393.5M81.1 333.0Q116.9 356.5 115.1 399.4M81.1 333.0Q119.8 358.2 123.5 404.2M81.1 333.0Q129.3 360.8 151.6 411.8M81.1 333.0Q132.7 360.8 161.3 411.9M81.1 333.0Q139.2 359.6 180.4 408.3M81.1 333.0Q142.2 358.4 189.5 404.7M81.1 333.0Q154.0 347.1 224.1 371.6M81.3 342.8Q106.0 343.9 82.8 352.4M81.3 342.8Q107.0 347.1 85.5 361.7M81.3 342.8Q108.3 350.1 89.4 370.7M81.3 342.8Q110.0 352.9 94.4 379.0M81.3 342.8Q112.0 355.5 100.4 386.7M81.3 342.8Q114.4 357.9 107.3 393.5M81.3 342.8Q119.9 361.5 123.5 404.2M81.3 342.8Q122.9 362.8 132.5 408.0M81.3 342.8Q126.1 363.6 142.0 410.5M81.3 342.8Q136.0 363.7 171.0 410.7M81.3 342.8Q142.3 361.7 189.5 404.7M81.3 342.8Q145.2 360.1 198.0 400.0M81.3 342.8Q155.4 347.4 228.1 362.7M81.3 342.8Q153.5 325.1 222.3 297.1M82.8 352.4Q107.5 350.3 85.5 361.7M82.8 352.4Q108.8 353.4 89.4 370.7M82.8 352.4Q110.5 356.2 94.4 379.0M82.8 352.4Q112.5 358.8 100.4 386.7M82.8 352.4Q117.5 363.1 115.1 399.4M82.8 352.4Q120.4 364.8 123.5 404.2M82.8 352.4Q123.5 366.0 132.5 408.0M82.8 352.4Q126.7 366.9 142.0 410.5M82.8 352.4Q129.9 367.3 151.6 411.8M82.8 352.4Q133.2 367.4 161.3 411.9M82.8 352.4Q136.5 367.0 171.0 410.7M82.8 352.4Q145.7 363.3 198.0 400.0M85.5 361.7Q109.7 356.5 89.4 370.7M85.5 361.7Q111.4 359.4 94.4 379.0M85.5 361.7Q113.4 362.0 100.4 386.7M85.5 361.7Q115.8 364.3 107.3 393.5M85.5 361.7Q118.4 366.3 115.1 399.4M85.5 361.7Q121.3 368.0 123.5 404.2M85.5 361.7Q124.4 369.2 132.5 408.0M85.5 361.7Q127.6 370.1 142.0 410.5M85.5 361.7Q134.2 370.6 161.3 411.9M85.5 361.7Q140.7 369.3 180.4 408.3M85.5 361.7Q143.7 368.1 189.5 404.7M85.5 361.7Q158.2 340.8 232.1 324.4M89.4 370.7Q112.7 362.4 94.4 379.0M89.4 370.7Q114.8 365.0 100.4 386.7M89.4 370.7Q117.1 367.4 107.3 393.5M89.4 370.7Q125.7 372.3 132.5 408.0M89.4 370.7Q128.9 373.1 142.0 410.5M89.4 370.7Q135.5 373.6 161.3 411.9M89.4 370.7Q159.8 347.1 233.0 334.1M94.4 379.0Q116.5 367.9 100.4 386.7M94.4 379.0Q118.8 370.2 107.3 393.5M94.4 379.0Q130.6 376.0 142.0 410.5M94.4 379.0Q133.9 376.4 151.6 411.8M94.4 379.0Q140.5 376.0 171.0 410.7M94.4 379.0Q152.3 370.4 205.9 394.2M100.4 386.7Q120.9 372.8 107.3 393.5M100.4 386.7Q123.5 374.8 115.1 399.4M100.4 386.7Q129.4 377.7 132.5 408.0M100.4 386.7Q135.9 379.0 151.6 411.8M100.4 386.7Q142.5 378.6 171.0 410.7M100.4 386.7Q148.8 376.6 189.5 404.7M100.4 386.7Q150.6 330.8 194.8 270.0M107.3 393.5Q125.9 377.1 115.1 399.4M107.3 393.5Q131.8 380.0 132.5 408.0M107.3 393.5Q135.0 380.9 142.0 410.5M107.3 393.5Q141.6 381.4 161.3 411.9M107.3 393.5Q148.1 380.1 180.4 408.3M107.3 393.5Q165.6 351.6 232.1 324.4M107.3 393.5Q162.3 342.3 222.3 297.1M115.1 399.4Q131.4 380.8 123.5 404.2M115.1 399.4Q147.5 383.0 171.0 410.7M115.1 399.4Q167.9 363.5 231.0 353.4M123.5 404.2Q170.8 365.1 231.0 353.4M123.5 404.2Q170.4 352.0 230.0 314.9M132.5 408.0Q146.9 386.2 151.6 411.8M132.5 408.0Q156.7 385.0 180.4 408.3M132.5 408.0Q159.7 383.8 189.5 404.7M132.5 408.0Q170.9 347.2 222.3 297.1M142.0 410.5Q153.4 387.1 161.3 411.9M142.0 410.5Q177.6 364.0 232.6 343.8M142.0 410.5Q176.7 354.1 230.0 314.9M151.6 411.8Q156.6 387.6 161.3 411.9M151.6 411.8Q163.1 386.4 180.4 408.3M151.6 411.8Q166.2 385.1 189.5 404.7M151.6 411.8Q180.7 357.8 232.1 324.4M219.0 379.9Q193.7 330.3 202.9 275.4M198.0 400.0Q164.6 332.7 138.2 262.4M198.0 400.0Q158.4 335.2 120.2 269.5M205.9 394.2Q170.5 330.1 147.8 260.6M205.9 394.2Q150.1 345.2 87.7 304.8M212.9 387.5Q166.5 329.5 129.0 265.4M212.9 387.5Q169.6 328.5 138.2 262.4M219.0 379.9Q168.6 326.9 129.0 265.4M219.0 379.9Q175.0 325.3 147.8 260.6M224.1 371.6Q159.7 331.9 97.9 288.2M224.1 371.6Q173.4 323.1 138.2 262.4M228.1 362.7Q178.1 319.4 147.8 260.6M228.1 362.7Q163.3 326.4 104.5 281.0M231.0 353.4Q172.6 317.9 129.0 265.4M231.0 353.4Q166.8 321.1 112.0 274.8M232.6 343.8Q156.9 337.7 81.1 333.0M232.6 343.8Q167.4 317.8 112.0 274.8M233.0 334.1Q167.5 314.5 112.0 274.8M233.0 334.1Q173.3 311.3 129.0 265.4M232.1 324.4Q162.4 315.8 97.9 288.2M232.1 324.4Q179.4 306.4 147.8 260.6M230.0 314.9Q164.0 310.1 104.5 281.0M230.0 314.9Q178.7 303.2 147.8 260.6M226.7 305.7Q160.6 309.5 97.9 288.2M226.7 305.7Q177.6 300.1 147.8 260.6M222.3 297.1Q155.6 312.1 87.7 304.8M222.3 297.1Q153.4 321.8 81.1 333.0M216.7 289.0Q174.2 294.4 147.8 260.6M216.7 289.0Q170.9 295.0 138.2 262.4M210.3 281.8Q155.0 301.3 97.9 288.2M210.3 281.8Q149.9 323.1 82.8 352.4M202.9 275.4Q149.0 304.8 87.7 304.8M202.9 275.4Q166.2 290.4 138.2 262.4M194.8 270.0Q166.7 287.9 147.8 260.6M194.8 270.0Q149.7 297.3 97.9 288.2M186.0 265.8Q141.6 317.7 82.8 352.4M186.0 265.8Q157.3 288.1 129.0 265.4M176.8 262.6Q140.2 300.4 87.7 304.8M176.8 262.6Q143.6 294.8 97.9 288.2M167.2 260.7Q134.7 309.4 81.1 333.0M167.2 260.7Q154.1 285.4 138.2 262.4M157.5 260.0Q150.8 285.1 138.2 262.4M157.5 260.0Q133.6 299.5 87.7 304.8" fill="none" stroke="#5f78f5" stroke-width="0.5" stroke-opacity="0.70"/>
<path d="M147.8 260.6Q138.6 289.5 112.0 274.8M147.8 260.6Q136.0 291.7 104.5 281.0M147.8 260.6Q133.8 294.1 97.9 288.2M147.8 260.6Q130.3 299.7 87.7 304.8M138.2 262.4Q135.3 290.1 112.0 274.8M138.2 262.4Q128.6 297.4 92.3 296.1M129.0 265.4Q134.9 289.4 120.2 269.5M129.0 265.4Q132.2 291.2 112.0 274.8M129.0 265.4Q129.6 293.3 104.5 281.0M129.0 265.4Q127.4 295.7 97.9 288.2M129.0 265.4Q122.8 304.5 84.3 313.9M120.2 269.5Q129.2 292.6 112.0 274.8M120.2 269.5Q126.6 294.7 104.5 281.0M120.2 269.5Q124.4 297.1 97.9 288.2M120.2 269.5Q122.5 299.8 92.3 296.1M120.2 269.5Q120.9 302.8 87.7 304.8M120.2 269.5Q119.8 305.9 84.3 313.9M120.2 269.5Q118.7 312.4 81.1 333.0M120.2 269.5Q121.5 325.2 89.4 370.7M120.2 269.5Q136.2 337.9 132.5 408.0M120.2 269.5Q139.4 338.7 142.0 410.5M120.2 269.5Q142.6 339.2 151.6 411.8M120.2 269.5Q149.2 338.8 171.0 410.7M120.2 269.5Q163.5 330.9 212.9 387.5M120.2 269.5Q167.3 325.5 224.1 371.6M120.2 269.5Q166.7 300.2 222.3 297.1M112.0 274.8Q123.8 296.5 104.5 281.0M112.0 274.8Q121.6 298.9 97.9 288.2M112.0 274.8Q119.7 301.6 92.3 296.1M112.0 274.8Q118.1 304.6 87.7 304.8M112.0 274.8Q117.0 307.7 84.3 313.9M112.0 274.8Q116.2 310.9 82.1 323.3M112.0 274.8Q115.9 314.2 81.1 333.0M112.0 274.8Q116.0 317.5 81.3 342.8M112.0 274.8Q116.5 320.8 82.8 352.4M112.0 274.8Q117.4 323.9 85.5 361.7M112.0 274.8Q118.7 327.0 89.4 370.7M112.0 274.8Q124.8 334.7 107.3 393.5M112.0 274.8Q146.5 340.6 171.0 410.7M112.0 274.8Q149.7 339.8 180.4 408.3M112.0 274.8Q155.6 336.9 198.0 400.0M112.0 274.8Q165.9 324.3 228.1 362.7M104.5 281.0Q119.1 301.1 97.9 288.2M104.5 281.0Q117.2 303.8 92.3 296.1M104.5 281.0Q115.6 306.7 87.7 304.8M104.5 281.0Q114.4 309.8 84.3 313.9M104.5 281.0Q117.9 331.9 94.4 379.0M104.5 281.0Q124.9 338.9 115.1 399.4M104.5 281.0Q140.6 343.1 161.3 411.9M104.5 281.0Q143.9 342.7 171.0 410.7M104.5 281.0Q147.1 341.9 180.4 408.3M104.5 281.0Q162.9 307.0 226.7 305.7M97.9 288.2Q114.9 306.2 92.3 296.1M97.9 288.2Q113.4 309.1 87.7 304.8M97.9 288.2Q112.2 312.2 84.3 313.9M97.9 288.2Q111.4 315.4 82.1 323.3M97.9 288.2Q111.1 318.7 81.1 333.0M97.9 288.2Q111.2 322.0 81.3 342.8M97.9 288.2Q112.6 328.5 85.5 361.7M97.9 288.2Q115.6 334.4 94.4 379.0M97.9 288.2Q117.7 337.0 100.4 386.7M97.9 288.2Q128.6 344.2 132.5 408.0M97.9 288.2Q158.0 334.7 219.0 379.9M97.9 288.2Q162.6 322.4 232.6 343.8M92.3 296.1Q111.4 311.8 87.7 304.8M92.3 296.1Q110.3 314.9 84.3 313.9M92.3 296.1Q109.5 318.1 82.1 323.3M92.3 296.1Q109.2 321.4 81.1 333.0M92.3 296.1Q109.3 324.8 81.3 342.8M92.3 296.1Q126.7 346.9 132.5 408.0M92.3 296.1Q136.5 348.2 161.3 411.9M92.3 296.1Q151.6 342.2 205.9 394.2M92.3 296.1Q160.8 321.8 233.0 334.1M92.3 296.1Q160.5 318.5 232.1 324.4M92.3 296.1Q159.8 315.3 230.0 314.9M87.7 304.8Q108.7 317.9 84.3 313.9M87.7 304.8Q108.0 321.1 82.1 323.3M87.7 304.8Q107.7 327.7 81.3 342.8M87.7 304.8Q108.2 330.9 82.8 352.4M87.7 304.8Q112.1 340.0 94.4 379.0M87.7 304.8Q119.2 346.9 115.1 399.4M87.7 304.8Q128.3 350.7 142.0 410.5M87.7 304.8Q131.6 351.2 151.6 411.8M87.7 304.8Q159.1 328.0 232.6 343.8M87.7 304.8Q158.3 318.2 230.0 314.9M87.7 304.8Q146.3 302.9 194.8 270.0M84.3 313.9Q106.5 327.5 81.1 333.0M84.3 313.9Q107.0 334.0 82.8 352.4M84.3 313.9Q109.3 340.3 89.4 370.7M84.3 313.9Q113.0 345.7 100.4 386.7M84.3 313.9Q118.0 350.0 115.1 399.4M84.3 313.9Q124.0 352.9 132.5 408.0M84.3 313.9Q133.8 354.3 161.3 411.9M84.3 313.9Q143.3 351.8 189.5 404.7M84.3 313.9Q157.4 334.4 231.0 353.4" fill="none" stroke="#50b4f5" stroke-width="0.5" stroke-opacity="0.70"/>
<path d="M129.0 265.4Q125.5 298.4 92.3 296.1M129.0 265.4Q123.9 301.4 87.7 304.8M129.0 265.4Q122.2 317.6 82.8 352.4M129.0 265.4Q128.2 329.2 100.4 386.7M129.0 265.4Q130.6 331.5 107.3 393.5M129.0 265.4Q155.4 336.6 180.4 408.3M129.0 265.4Q158.5 335.3 189.5 404.7" fill="none" stroke="#28dcfa" stroke-width="0.5" stroke-opacity="0.65"/>
<path d="M138.2 262.4Q141.1 286.9 129.0 265.4M138.2 262.4Q138.1 288.4 120.2 269.5M138.2 262.4Q132.8 292.3 104.5 281.0M138.2 262.4Q130.5 294.7 97.9 288.2M138.2 262.4Q127.1 300.3 87.7 304.8M138.2 262.4Q125.9 303.4 84.3 313.9M138.2 262.4Q125.1 306.7 82.1 323.3M138.2 262.4Q124.9 313.3 81.3 342.8M138.2 262.4Q125.4 316.5 82.8 352.4M138.2 262.4Q126.3 319.7 85.5 361.7M138.2 262.4Q127.6 322.8 89.4 370.7M138.2 262.4Q131.4 328.2 100.4 386.7M138.2 262.4Q133.7 330.5 107.3 393.5M138.2 262.4Q136.4 332.5 115.1 399.4M138.2 262.4Q139.2 334.2 123.5 404.2M138.2 262.4Q152.1 336.8 161.3 411.9M138.2 262.4Q155.4 336.4 171.0 410.7M138.2 262.4Q158.6 335.5 180.4 408.3M138.2 262.4Q161.7 334.3 189.5 404.7M138.2 262.4Q176.3 313.6 232.6 343.8M138.2 262.4Q176.5 310.3 233.0 334.1" fill="none" stroke="#10f0fa" stroke-width="0.5" stroke-opacity="0.65"/>
<path d="M147.8 260.6Q147.5 285.3 138.2 262.4M147.8 260.6Q144.3 286.3 129.0 265.4M147.8 260.6Q141.4 287.7 120.2 269.5M147.8 260.6Q131.9 296.8 92.3 296.1M147.8 260.6Q129.2 302.8 84.3 313.9M147.8 260.6Q128.4 306.0 82.1 323.3M147.8 260.6Q128.6 315.9 82.8 352.4M147.8 260.6Q129.6 319.1 85.5 361.7M147.8 260.6Q130.9 322.1 89.4 370.7M147.8 260.6Q132.6 325.0 94.4 379.0M147.8 260.6Q134.6 327.6 100.4 386.7M147.8 260.6Q137.0 329.9 107.3 393.5M147.8 260.6Q139.6 331.9 115.1 399.4M147.8 260.6Q142.5 333.6 123.5 404.2M147.8 260.6Q148.8 335.7 142.0 410.5M147.8 260.6Q152.0 336.1 151.6 411.8M147.8 260.6Q158.6 335.7 171.0 410.7M147.8 260.6Q161.8 334.9 180.4 408.3M147.8 260.6Q164.9 333.7 189.5 404.7M147.8 260.6Q167.8 332.1 198.0 400.0M147.8 260.6Q170.5 330.1 205.9 394.2M147.8 260.6Q169.5 289.7 202.9 275.4M147.8 260.6Q157.4 284.7 167.2 260.7" fill="none" stroke="#00ffff" stroke-width="0.5" stroke-opacity="0.65"/>
<g stroke="#2c4a7a" stroke-width="0.35">
<circle cx="167.2" cy="260.7" r="0.8" fill="#5f78f5"/>
<circle cx="176.8" cy="262.6" r="0.8" fill="#5f78f5"/>
<circle cx="186.0" cy="265.8" r="0.8" fill="#5f78f5"/>
<circle cx="194.8" cy="270.0" r="0.8" fill="#5f78f5"/>
<circle cx="202.9" cy="275.4" r="0.8" fill="#5f78f5"/>
<circle cx="210.3" cy="281.8" r="0.8" fill="#5f78f5"/>
<circle cx="216.7" cy="289.0" r="0.8" fill="#5f78f5"/>
<circle cx="222.3" cy="297.1" r="0.8" fill="#5f78f5"/>
<circle cx="226.7" cy="305.7" r="1.3" fill="#5f78f5"/>
<circle cx="230.0" cy="314.9" r="0.8" fill="#5f78f5"/>
<circle cx="232.1" cy="324.4" r="0.8" fill="#5f78f5"/>
<circle cx="233.0" cy="334.1" r="0.8" fill="#5f78f5"/>
<circle cx="232.6" cy="343.8" r="0.8" fill="#5f78f5"/>
<circle cx="231.0" cy="353.4" r="0.8" fill="#5f78f5"/>
<circle cx="228.1" cy="362.7" r="1.3" fill="#5f78f5"/>
<circle cx="224.1" cy="371.6" r="0.8" fill="#5f78f5"/>
<circle cx="219.0" cy="379.9" r="1.5" fill="#5f78f5"/>
<circle cx="212.9" cy="387.5" r="0.8" fill="#5f78f5"/>
<circle cx="205.9" cy="394.2" r="1.3" fill="#5f78f5"/>
<circle cx="198.0" cy="400.0" r="0.8" fill="#5f78f5"/>
<circle cx="189.5" cy="404.7" r="0.8" fill="#5f78f5"/>
<circle cx="180.4" cy="408.3" r="1.5" fill="#5f78f5"/>
<circle cx="171.0" cy="410.7" r="0.9" fill="#5f78f5"/>
<circle cx="161.3" cy="411.9" r="1.0" fill="#5f78f5"/>
<circle cx="151.6" cy="411.8" r="2.6" fill="#5f78f5"/>
<circle cx="142.0" cy="410.5" r="1.0" fill="#5f78f5"/>
<circle cx="132.5" cy="408.0" r="1.0" fill="#5f78f5"/>
<circle cx="123.5" cy="404.2" r="1.5" fill="#5f78f5"/>
<circle cx="115.1" cy="399.4" r="1.0" fill="#5f78f5"/>
<circle cx="107.3" cy="393.5" r="2.0" fill="#5f78f5"/>
<circle cx="100.4" cy="386.7" r="2.0" fill="#5f78f5"/>
<circle cx="94.4" cy="379.0" r="1.8" fill="#5f78f5"/>
<circle cx="89.4" cy="370.7" r="2.0" fill="#5f78f5"/>
<circle cx="85.5" cy="361.7" r="1.6" fill="#5f78f5"/>
<circle cx="82.8" cy="352.4" r="4.4" fill="#5f78f5"/>
<circle cx="81.3" cy="342.8" r="2.0" fill="#5f78f5"/>
<circle cx="81.1" cy="333.0" r="3.3" fill="#5f78f5"/>
<circle cx="82.1" cy="323.3" r="2.2" fill="#5f78f5"/>
<circle cx="84.3" cy="313.9" r="2.8" fill="#50b4f5"/>
<circle cx="87.7" cy="304.8" r="2.8" fill="#50b4f5"/>
<circle cx="92.3" cy="296.1" r="2.5" fill="#50b4f5"/>
<circle cx="97.9" cy="288.2" r="3.5" fill="#50b4f5"/>
<circle cx="104.5" cy="281.0" r="3.3" fill="#50b4f5"/>
<circle cx="112.0" cy="274.8" r="3.7" fill="#50b4f5"/>
<circle cx="120.2" cy="269.5" r="4.3" fill="#50b4f5"/>
<circle cx="129.0" cy="265.4" r="4.0" fill="#28dcfa"/>
<circle cx="138.2" cy="262.4" r="6.0" fill="#10f0fa"/>
<circle cx="147.8" cy="260.6" r="7.2" fill="#00ffff"/>
<circle cx="157.5" cy="260.0" r="0.8" fill="#5f78f5"/>
</g>
<g font-family="&quot;Liberation Sans&quot;, sans-serif" font-size="6" fill="#222">
<text transform="translate(157.6 256.9) rotate(-89.6)" text-anchor="start" y="2">iran</text>
<text transform="translate(146.7 251.1) rotate(83.1)" text-anchor="end" y="2">usa</text>
<text transform="translate(136.2 254.3) rotate(75.7)" text-anchor="end" y="2">germany</text>
<text transform="translate(126.6 259.5) rotate(68.4)" text-anchor="end" y="2">england</text>
<text transform="translate(117.0 263.7) rotate(61.0)" text-anchor="end" y="2">australia</text>
<text transform="translate(108.4 269.9) rotate(53.7)" text-anchor="end" y="2">netherlands</text>
<text transform="translate(100.6 277.0) rotate(46.3)" text-anchor="end" y="2">poland</text>
<text transform="translate(93.4 284.6) rotate(39.0)" text-anchor="end" y="2">italy</text>
<text transform="translate(88.2 293.6) rotate(31.6)" text-anchor="end" y="2">belgium</text>
<text transform="translate(83.1 302.7) rotate(24.3)" text-anchor="end" y="2">france</text>
<text transform="translate(79.4 312.4) rotate(16.9)" text-anchor="end" y="2">greece</text>
<text transform="translate(77.6 322.6) rotate(9.6)" text-anchor="end" y="2">spain</text>
<text transform="translate(75.5 332.8) rotate(2.2)" text-anchor="end" y="2">japan</text>
<text transform="translate(77.0 343.2) rotate(-5.1)" text-anchor="end" y="2">switzerland</text>
<text transform="translate(76.2 353.8) rotate(-12.5)" text-anchor="end" y="2">china</text>
<text transform="translate(81.8 363.1) rotate(-19.8)" text-anchor="end" y="2">norway</text>
<text transform="translate(85.5 372.6) rotate(-27.2)" text-anchor="end" y="2">austria</text>
<text transform="translate(91.0 381.4) rotate(-34.5)" text-anchor="end" y="2">sweden</text>
<text transform="translate(97.2 389.6) rotate(-41.8)" text-anchor="end" y="2">ireland</text>
<text transform="translate(104.5 396.8) rotate(-49.2)" text-anchor="end" y="2">czech republic</text>
<text transform="translate(113.3 402.2) rotate(-56.5)" text-anchor="end" y="2">monaco</text>
<text transform="translate(121.9 407.7) rotate(-63.9)" text-anchor="end" y="2">new zealand</text>
<text transform="translate(131.5 411.1) rotate(-71.2)" text-anchor="end" y="2">israel</text>
<text transform="translate(141.3 413.7) rotate(-78.6)" text-anchor="end" y="2">malaysia</text>
<text transform="translate(151.3 416.7) rotate(-85.9)" text-anchor="end" y="2">brazil</text>
<text transform="translate(161.5 415.2) rotate(86.7)" text-anchor="start" y="2">india</text>
<text transform="translate(171.6 413.8) rotate(79.4)" text-anchor="start" y="2">latvia</text>
<text transform="translate(181.6 411.9) rotate(72.0)" text-anchor="start" y="2">canada</text>
<text transform="translate(190.8 407.5) rotate(64.7)" text-anchor="start" y="2">singapore</text>
<text transform="translate(199.7 402.6) rotate(57.3)" text-anchor="start" y="2">thailand</text>
<text transform="translate(208.2 397.0) rotate(50.0)" text-anchor="start" y="2">denmark</text>
<text transform="translate(215.2 389.6) rotate(42.6)" text-anchor="start" y="2">vietnam</text>
<text transform="translate(222.1 382.1) rotate(35.3)" text-anchor="start" y="2">south korea</text>
<text transform="translate(226.9 373.1) rotate(28.0)" text-anchor="start" y="2">hungary</text>
<text transform="translate(231.5 364.0) rotate(20.6)" text-anchor="start" y="2">portugal</text>
<text transform="translate(234.0 354.1) rotate(13.3)" text-anchor="start" y="2">lithuania</text>
<text transform="translate(235.7 344.1) rotate(5.9)" text-anchor="start" y="2">south africa</text>
<text transform="translate(236.1 334.0) rotate(-1.4)" text-anchor="start" y="2">romania</text>
<text transform="translate(235.2 323.9) rotate(-8.8)" text-anchor="start" y="2">pakistan</text>
<text transform="translate(233.0 314.0) rotate(-16.1)" text-anchor="start" y="2">indonesia</text>
<text transform="translate(230.0 304.3) rotate(-23.5)" text-anchor="start" y="2">russia</text>
<text transform="translate(224.9 295.5) rotate(-30.8)" text-anchor="start" y="2">chile</text>
<text transform="translate(219.2 287.1) rotate(-38.2)" text-anchor="start" y="2">turkey</text>
<text transform="translate(212.4 279.6) rotate(-45.5)" text-anchor="start" y="2">finland</text>
<text transform="translate(204.8 272.9) rotate(-52.9)" text-anchor="start" y="2">serbia</text>
<text transform="translate(196.3 267.4) rotate(-60.2)" text-anchor="start" y="2">mexico</text>
<text transform="translate(187.2 262.9) rotate(-67.6)" text-anchor="start" y="2">slovakia</text>
<text transform="translate(177.6 259.6) rotate(-74.9)" text-anchor="start" y="2">egypt</text>
<text transform="translate(167.7 257.6) rotate(-82.3)" text-anchor="start" y="2">bulgaria</text>
</g>
<g fill="none" stroke="#3c5a8c" stroke-width="0.5"><circle cx="290" cy="243.1" r="8"/><circle cx="290" cy="246.6" r="4.5"/><path d="M290 235.1H300M290 242.1H300"/></g>
<g font-family="&quot;Liberation Sans&quot;, sans-serif" font-size="6.2" fill="#555"><text x="302" y="239.5">600</text><text x="302" y="246.5">200</text></g>
<text x="282.3" y="266" font-family="&quot;Liberation Sans&quot;, sans-serif" font-size="6.35" font-weight="bold" fill="#333">Total link strength</text>
<rect x="282.10" y="273" width="16.60" height="8" fill="#5f78f5"/>
<rect x="298.60" y="273" width="16.60" height="8" fill="#50b4f5"/>
<rect x="315.10" y="273" width="16.60" height="8" fill="#28dcfa"/>
<rect x="331.60" y="273" width="16.50" height="8" fill="#00ffff"/>
<path d="M282.4 282.3V286.6" stroke="#9aa8e8" stroke-width="0.5"/>
<text x="282" y="293.6" font-family="&quot;Liberation Sans&quot;, sans-serif" font-size="5.8" fill="#555">1</text>
<text x="351" y="293.6" font-family="&quot;Liberation Sans&quot;, sans-serif" font-size="5.8" fill="#555" text-anchor="end">738</text>
<rect x="348" y="227" width="337" height="226" fill="#fff"/>
<g fill="none" stroke-opacity="0.45">
<path d="M496.7 341.3Q485.4 331.5 487.4 316.6" stroke="rgb(65,140,180)" stroke-width="1.10"/>
<path d="M496.7 341.3Q482.7 309.4 448.4 303.6" stroke="rgb(84,116,196)" stroke-width="1.10"/>
<path d="M496.7 341.3Q492.4 309.2 516.8 288.0" stroke="rgb(40,162,140)" stroke-width="1.10"/>
<path d="M496.7 341.3Q459.5 308.1 411.3 321.1" stroke="rgb(119,208,85)" stroke-width="1.10"/>
<path d="M496.7 341.3Q538.4 342.0 560.7 377.2" stroke="rgb(62,142,175)" stroke-width="1.10"/>
<path d="M496.7 341.3Q440.5 341.7 410.0 389.0" stroke="rgb(56,184,120)" stroke-width="1.10"/>
<path d="M496.7 341.3Q510.5 373.0 491.6 402.0" stroke="rgb(43,167,135)" stroke-width="1.10"/>
<path d="M496.7 341.3Q517.4 335.1 523.5 314.4" stroke="rgb(47,154,152)" stroke-width="1.02"/>
<path d="M496.7 341.3Q487.9 353.7 472.8 353.1" stroke="rgb(59,145,171)" stroke-width="0.94"/>
<path d="M496.7 341.3Q519.4 350.3 539.4 336.2" stroke="rgb(52,149,161)" stroke-width="0.87"/>
<path d="M496.7 341.3Q513.1 349.1 515.5 367.1" stroke="rgb(40,162,140)" stroke-width="0.81"/>
<path d="M496.7 341.3Q508.8 303.8 484.1 273.2" stroke="rgb(56,146,167)" stroke-width="0.75"/>
<path d="M496.7 341.3Q433.0 318.4 417.1 252.6" stroke="rgb(56,146,167)" stroke-width="0.70"/>
<path d="M496.7 341.3Q488.7 294.8 445.4 276.0" stroke="rgb(56,146,167)" stroke-width="0.66"/>
<path d="M496.7 341.3Q514.5 305.2 554.4 300.3" stroke="rgb(52,149,161)" stroke-width="0.62"/>
<path d="M496.7 341.3Q549.0 347.9 583.3 307.8" stroke="rgb(68,136,184)" stroke-width="0.58"/>
<path d="M496.7 341.3Q543.3 309.6 595.4 331.2" stroke="rgb(77,124,191)" stroke-width="0.55"/>
<path d="M496.7 341.3Q470.1 360.2 439.7 348.3" stroke="rgb(80,121,193)" stroke-width="0.50"/>
<path d="M496.7 341.3Q573.2 354.8 626.5 298.3" stroke="rgb(95,104,208)" stroke-width="0.48"/>
<path d="M496.7 341.3Q509.5 396.6 470.3 437.7" stroke="rgb(95,104,207)" stroke-width="0.45"/>
<path d="M496.7 341.3Q521.7 286.3 489.4 235.3" stroke="rgb(98,101,211)" stroke-width="0.44"/>
<path d="M496.7 341.3Q501.6 270.8 563.2 236.3" stroke="rgb(75,128,189)" stroke-width="0.42"/>
<path d="M496.7 341.3Q541.8 399.7 615.4 394.0" stroke="rgb(53,181,122)" stroke-width="0.41"/>
<path d="M496.7 341.3Q529.8 371.2 523.0 415.3" stroke="rgb(150,216,71)" stroke-width="0.39"/>
<path d="M496.7 341.3Q429.9 316.5 372.6 358.8" stroke="rgb(150,216,71)" stroke-width="0.38"/>
<path d="M496.7 341.3Q431.9 336.7 400.2 280.0" stroke="rgb(108,205,90)" stroke-width="0.37"/>
<path d="M487.4 316.6Q464.4 320.6 448.4 303.6" stroke="rgb(85,115,197)" stroke-width="1.10"/>
<path d="M487.4 316.6Q509.8 310.2 516.8 288.0" stroke="rgb(40,161,141)" stroke-width="1.10"/>
<path d="M487.4 316.6Q450.6 339.4 411.3 321.1" stroke="rgb(117,207,86)" stroke-width="1.10"/>
<path d="M487.4 316.6Q507.7 366.7 560.7 377.2" stroke="rgb(62,142,177)" stroke-width="1.10"/>
<path d="M487.4 316.6Q468.2 373.7 410.0 389.0" stroke="rgb(55,183,120)" stroke-width="1.10"/>
<path d="M487.4 316.6Q466.4 360.4 491.6 402.0" stroke="rgb(43,166,135)" stroke-width="1.02"/>
<path d="M487.4 316.6Q504.9 305.8 523.5 314.4" stroke="rgb(47,154,153)" stroke-width="0.94"/>
<path d="M487.4 316.6Q470.2 330.9 472.8 353.1" stroke="rgb(59,144,172)" stroke-width="0.87"/>
<path d="M487.4 316.6Q518.7 312.4 539.4 336.2" stroke="rgb(53,149,162)" stroke-width="0.81"/>
<path d="M487.4 316.6Q487.8 349.4 515.5 367.1" stroke="rgb(40,161,141)" stroke-width="0.75"/>
<path d="M487.4 316.6Q474.0 295.8 484.1 273.2" stroke="rgb(57,146,168)" stroke-width="0.70"/>
<path d="M487.4 316.6Q469.5 265.6 417.1 252.6" stroke="rgb(57,146,168)" stroke-width="0.66"/>
<path d="M487.4 316.6Q455.4 307.6 445.4 276.0" stroke="rgb(57,146,168)" stroke-width="0.62"/>
<path d="M487.4 316.6Q525.3 326.5 554.4 300.3" stroke="rgb(53,149,162)" stroke-width="0.58"/>
<path d="M487.4 316.6Q533.0 286.3 583.3 307.8" stroke="rgb(69,135,185)" stroke-width="0.55"/>
<path d="M487.4 316.6Q537.5 353.1 595.4 331.2" stroke="rgb(78,123,192)" stroke-width="0.52"/>
<path d="M487.4 316.6Q537.3 309.9 570.2 348.0" stroke="rgb(76,127,190)" stroke-width="0.50"/>
<path d="M487.4 316.6Q552.0 269.9 626.5 298.3" stroke="rgb(96,103,209)" stroke-width="0.45"/>
<path d="M487.4 316.6Q547.0 296.9 563.2 236.3" stroke="rgb(76,127,190)" stroke-width="0.41"/>
<path d="M487.4 316.6Q572.3 320.7 615.4 394.0" stroke="rgb(53,180,123)" stroke-width="0.39"/>
<path d="M487.4 316.6Q441.4 368.7 372.6 358.8" stroke="rgb(146,215,72)" stroke-width="0.37"/>
<path d="M487.4 316.6Q441.9 355.5 384.4 338.7" stroke="rgb(58,187,117)" stroke-width="0.35"/>
<path d="M487.4 316.6Q431.7 313.0 398.2 357.6" stroke="rgb(89,199,100)" stroke-width="0.34"/>
<path d="M448.4 303.6Q478.4 277.3 516.8 288.0" stroke="rgb(45,156,148)" stroke-width="1.10"/>
<path d="M448.4 303.6Q425.1 302.3 411.3 321.1" stroke="rgb(99,202,95)" stroke-width="1.10"/>
<path d="M448.4 303.6Q524.4 310.1 560.7 377.2" stroke="rgb(68,136,184)" stroke-width="1.10"/>
<path d="M448.4 303.6Q406.1 335.9 410.0 389.0" stroke="rgb(50,176,127)" stroke-width="1.02"/>
<path d="M448.4 303.6Q496.6 341.1 491.6 402.0" stroke="rgb(41,160,142)" stroke-width="0.94"/>
<path d="M448.4 303.6Q483.0 329.3 523.5 314.4" stroke="rgb(52,149,160)" stroke-width="0.87"/>
<path d="M448.4 303.6Q474.0 321.8 472.8 353.1" stroke="rgb(64,140,180)" stroke-width="0.81"/>
<path d="M448.4 303.6Q485.1 344.5 539.4 336.2" stroke="rgb(58,145,170)" stroke-width="0.75"/>
<path d="M448.4 303.6Q499.1 317.2 515.5 367.1" stroke="rgb(45,156,148)" stroke-width="0.70"/>
<path d="M448.4 303.6Q474.5 298.0 484.1 273.2" stroke="rgb(62,142,177)" stroke-width="0.66"/>
<path d="M448.4 303.6Q419.0 286.6 417.1 252.6" stroke="rgb(62,142,177)" stroke-width="0.62"/>
<path d="M448.4 303.6Q454.4 289.0 445.4 276.0" stroke="rgb(62,142,177)" stroke-width="0.58"/>
<path d="M448.4 303.6Q500.5 273.3 554.4 300.3" stroke="rgb(58,145,170)" stroke-width="0.55"/>
<path d="M448.4 303.6Q514.7 342.1 583.3 307.8" stroke="rgb(76,127,190)" stroke-width="0.52"/>
<path d="M448.4 303.6Q529.4 277.7 595.4 331.2" stroke="rgb(85,115,197)" stroke-width="0.50"/>
<path d="M448.4 303.6Q497.3 358.7 570.2 348.0" stroke="rgb(82,119,195)" stroke-width="0.48"/>
<path d="M448.4 303.6Q456.1 328.3 439.7 348.3" stroke="rgb(87,112,199)" stroke-width="0.45"/>
<path d="M448.4 303.6Q538.9 349.0 626.5 298.3" stroke="rgb(100,99,214)" stroke-width="0.44"/>
<path d="M448.4 303.6Q487.3 280.5 489.4 235.3" stroke="rgb(103,96,217)" stroke-width="0.41"/>
<path d="M448.4 303.6Q487.6 239.0 563.2 236.3" stroke="rgb(82,119,195)" stroke-width="0.39"/>
<path d="M448.4 303.6Q507.5 393.9 615.4 394.0" stroke="rgb(48,173,129)" stroke-width="0.38"/>
<path d="M448.4 303.6Q515.9 339.3 523.0 415.3" stroke="rgb(124,210,82)" stroke-width="0.37"/>
<path d="M448.4 303.6Q406.9 303.9 384.4 338.7" stroke="rgb(53,180,123)" stroke-width="0.34"/>
<path d="M516.8 288.0Q473.0 333.0 411.3 321.1" stroke="rgb(155,217,68)" stroke-width="1.10"/>
<path d="M516.8 288.0Q514.7 344.5 560.7 377.2" stroke="rgb(53,148,162)" stroke-width="1.02"/>
<path d="M516.8 288.0Q490.7 367.3 410.0 389.0" stroke="rgb(74,194,108)" stroke-width="0.94"/>
<path d="M516.8 288.0Q473.4 338.2 491.6 402.0" stroke="rgb(51,178,125)" stroke-width="0.87"/>
<path d="M516.8 288.0Q527.3 299.4 523.5 314.4" stroke="rgb(40,162,140)" stroke-width="0.81"/>
<path d="M516.8 288.0Q477.2 308.7 472.8 353.1" stroke="rgb(50,151,158)" stroke-width="0.75"/>
<path d="M516.8 288.0Q541.1 306.0 539.4 336.2" stroke="rgb(45,156,149)" stroke-width="0.70"/>
<path d="M516.8 288.0Q494.8 327.2 515.5 367.1" stroke="rgb(48,173,130)" stroke-width="0.66"/>
<path d="M516.8 288.0Q496.5 289.4 484.1 273.2" stroke="rgb(49,153,155)" stroke-width="0.62"/>
<path d="M516.8 288.0Q476.5 243.4 417.1 252.6" stroke="rgb(49,153,155)" stroke-width="0.58"/>
<path d="M516.8 288.0Q477.9 301.3 445.4 276.0" stroke="rgb(49,153,155)" stroke-width="0.55"/>
<path d="M516.8 288.0Q532.3 304.3 554.4 300.3" stroke="rgb(45,156,149)" stroke-width="0.52"/>
<path d="M516.8 288.0Q555.4 279.9 583.3 307.8" stroke="rgb(60,144,172)" stroke-width="0.50"/>
<path d="M516.8 288.0Q544.4 330.8 595.4 331.2" stroke="rgb(67,137,183)" stroke-width="0.48"/>
<path d="M516.8 288.0Q559.7 303.6 570.2 348.0" stroke="rgb(65,140,180)" stroke-width="0.45"/>
<path d="M516.8 288.0Q462.0 297.3 439.7 348.3" stroke="rgb(70,134,185)" stroke-width="0.44"/>
<path d="M516.8 288.0Q574.4 263.5 626.5 298.3" stroke="rgb(88,111,200)" stroke-width="0.42"/>
<path d="M516.8 288.0Q453.1 350.3 470.3 437.7" stroke="rgb(88,112,200)" stroke-width="0.41"/>
<path d="M516.8 288.0Q554.0 274.7 563.2 236.3" stroke="rgb(65,140,180)" stroke-width="0.38"/>
<path d="M516.8 288.0Q463.8 362.3 372.6 358.8" stroke="rgb(191,224,53)" stroke-width="0.35"/>
<path d="M516.8 288.0Q460.7 252.5 400.2 280.0" stroke="rgb(140,214,75)" stroke-width="0.34"/>
<path d="M411.3 321.1Q501.1 308.8 560.7 377.2" stroke="rgb(42,159,144)" stroke-width="0.94"/>
<path d="M411.3 321.1Q392.3 354.7 410.0 389.0" stroke="rgb(117,207,86)" stroke-width="0.87"/>
<path d="M411.3 321.1Q473.3 339.9 491.6 402.0" stroke="rgb(75,194,107)" stroke-width="0.81"/>
<path d="M411.3 321.1Q469.2 348.0 523.5 314.4" stroke="rgb(52,179,124)" stroke-width="0.75"/>
<path d="M411.3 321.1Q450.7 320.5 472.8 353.1" stroke="rgb(40,162,139)" stroke-width="0.70"/>
<path d="M411.3 321.1Q471.3 363.2 539.4 336.2" stroke="rgb(46,170,132)" stroke-width="0.66"/>
<path d="M411.3 321.1Q475.8 316.0 515.5 367.1" stroke="rgb(61,190,114)" stroke-width="0.62"/>
<path d="M411.3 321.1Q460.6 316.8 484.1 273.2" stroke="rgb(42,165,137)" stroke-width="0.58"/>
<path d="M411.3 321.1Q395.7 285.3 417.1 252.6" stroke="rgb(42,165,137)" stroke-width="0.55"/>
<path d="M411.3 321.1Q440.5 307.8 445.4 276.0" stroke="rgb(42,165,137)" stroke-width="0.52"/>
<path d="M411.3 321.1Q477.2 272.1 554.4 300.3" stroke="rgb(46,170,132)" stroke-width="0.50"/>
<path d="M411.3 321.1Q506.1 276.4 595.4 331.2" stroke="rgb(54,148,163)" stroke-width="0.45"/>
<path d="M411.3 321.1Q432.8 327.0 439.7 348.3" stroke="rgb(56,146,167)" stroke-width="0.42"/>
<path d="M411.3 321.1Q473.5 299.3 489.4 235.3" stroke="rgb(77,125,191)" stroke-width="0.38"/>
<path d="M411.3 321.1Q464.4 237.7 563.2 236.3" stroke="rgb(52,149,160)" stroke-width="0.37"/>
<path d="M411.3 321.1Q492.6 338.0 523.0 415.3" stroke="rgb(240,230,50)" stroke-width="0.35"/>
<path d="M411.3 321.1Q381.8 329.5 372.6 358.8" stroke="rgb(240,230,50)" stroke-width="0.34"/>
<path d="M560.7 377.2Q488.5 423.8 410.0 389.0" stroke="rgb(56,184,119)" stroke-width="0.81"/>
<path d="M560.7 377.2Q519.5 370.9 491.6 402.0" stroke="rgb(44,168,134)" stroke-width="0.75"/>
<path d="M560.7 377.2Q525.1 355.8 523.5 314.4" stroke="rgb(46,155,151)" stroke-width="0.70"/>
<path d="M560.7 377.2Q523.3 341.4 472.8 353.1" stroke="rgb(58,145,170)" stroke-width="0.66"/>
<path d="M560.7 377.2Q539.0 362.5 539.4 336.2" stroke="rgb(52,149,160)" stroke-width="0.62"/>
<path d="M560.7 377.2Q540.8 359.9 515.5 367.1" stroke="rgb(40,162,139)" stroke-width="0.58"/>
<path d="M560.7 377.2Q494.3 345.9 484.1 273.2" stroke="rgb(56,146,167)" stroke-width="0.55"/>
<path d="M560.7 377.2Q522.5 276.1 417.1 252.6" stroke="rgb(56,146,167)" stroke-width="0.52"/>
<path d="M560.7 377.2Q475.7 357.7 445.4 276.0" stroke="rgb(56,146,167)" stroke-width="0.50"/>
<path d="M560.7 377.2Q578.3 337.0 554.4 300.3" stroke="rgb(52,149,160)" stroke-width="0.48"/>
<path d="M560.7 377.2Q553.3 336.4 583.3 307.8" stroke="rgb(68,136,184)" stroke-width="0.45"/>
<path d="M560.7 377.2Q590.5 363.6 595.4 331.2" stroke="rgb(77,125,191)" stroke-width="0.44"/>
<path d="M560.7 377.2Q600.0 307.4 563.2 236.3" stroke="rgb(74,128,189)" stroke-width="0.36"/>
<path d="M560.7 377.2Q592.6 370.8 615.4 394.0" stroke="rgb(54,182,122)" stroke-width="0.35"/>
<path d="M560.7 377.2Q531.6 386.1 523.0 415.3" stroke="rgb(152,216,70)" stroke-width="0.34"/>
<path d="M560.7 377.2Q484.7 323.5 398.2 357.6" stroke="rgb(92,200,98)" stroke-width="0.32"/>
<path d="M410.0 389.0Q454.3 373.5 491.6 402.0" stroke="rgb(57,186,118)" stroke-width="0.70"/>
<path d="M410.0 389.0Q486.9 382.3 523.5 314.4" stroke="rgb(45,169,133)" stroke-width="0.66"/>
<path d="M410.0 389.0Q431.7 354.1 472.8 353.1" stroke="rgb(46,156,150)" stroke-width="0.62"/>
<path d="M410.0 389.0Q489.0 397.5 539.4 336.2" stroke="rgb(40,161,141)" stroke-width="0.58"/>
<path d="M410.0 389.0Q456.8 349.6 515.5 367.1" stroke="rgb(53,180,123)" stroke-width="0.55"/>
<path d="M410.0 389.0Q478.3 351.1 484.1 273.2" stroke="rgb(44,157,147)" stroke-width="0.52"/>
<path d="M410.0 389.0Q376.7 318.9 417.1 252.6" stroke="rgb(44,157,147)" stroke-width="0.50"/>
<path d="M410.0 389.0Q458.2 342.1 445.4 276.0" stroke="rgb(44,157,147)" stroke-width="0.48"/>
<path d="M410.0 389.0Q542.7 402.1 626.5 298.3" stroke="rgb(82,119,195)" stroke-width="0.38"/>
<path d="M491.6 402.0Q483.9 349.6 523.5 314.4" stroke="rgb(41,163,138)" stroke-width="0.62"/>
<path d="M491.6 402.0Q495.4 372.5 472.8 353.1" stroke="rgb(49,152,156)" stroke-width="0.58"/>
<path d="M491.6 402.0Q497.7 356.2 539.4 336.2" stroke="rgb(44,157,147)" stroke-width="0.55"/>
<path d="M491.6 402.0Q513.0 391.0 515.5 367.1" stroke="rgb(49,175,128)" stroke-width="0.52"/>
<path d="M491.6 402.0Q434.5 351.5 445.4 276.0" stroke="rgb(47,154,153)" stroke-width="0.45"/>
<path d="M491.6 402.0Q550.5 368.1 554.4 300.3" stroke="rgb(44,157,147)" stroke-width="0.44"/>
<path d="M491.6 402.0Q562.6 394.6 595.4 331.2" stroke="rgb(65,140,182)" stroke-width="0.41"/>
<path d="M491.6 402.0Q516.3 353.8 570.2 348.0" stroke="rgb(63,141,178)" stroke-width="0.39"/>
<path d="M491.6 402.0Q531.1 313.7 626.5 298.3" stroke="rgb(87,112,199)" stroke-width="0.37"/>
<path d="M491.6 402.0Q445.5 319.2 489.4 235.3" stroke="rgb(90,109,202)" stroke-width="0.35"/>
<path d="M491.6 402.0Q503.7 417.1 523.0 415.3" stroke="rgb(198,226,50)" stroke-width="0.33"/>
<path d="M523.5 314.4Q508.6 347.4 472.8 353.1" stroke="rgb(53,149,162)" stroke-width="0.55"/>
<path d="M523.5 314.4Q525.6 329.6 539.4 336.2" stroke="rgb(47,154,153)" stroke-width="0.52"/>
<path d="M523.5 314.4Q533.7 342.9 515.5 367.1" stroke="rgb(45,169,133)" stroke-width="0.50"/>
<path d="M523.5 314.4Q514.9 283.2 484.1 273.2" stroke="rgb(51,150,159)" stroke-width="0.48"/>
<path d="M523.5 314.4Q453.6 312.2 417.1 252.6" stroke="rgb(51,150,159)" stroke-width="0.45"/>
<path d="M523.5 314.4Q494.8 274.1 445.4 276.0" stroke="rgb(51,150,159)" stroke-width="0.44"/>
<path d="M523.5 314.4Q564.0 303.4 595.4 331.2" stroke="rgb(71,133,186)" stroke-width="0.39"/>
<path d="M523.5 314.4Q490.8 354.0 439.7 348.3" stroke="rgb(73,130,188)" stroke-width="0.37"/>
<path d="M523.5 314.4Q530.2 390.4 470.3 437.7" stroke="rgb(90,109,202)" stroke-width="0.35"/>
<path d="M523.5 314.4Q472.5 369.8 398.2 357.6" stroke="rgb(110,205,89)" stroke-width="0.31"/>
<path d="M472.8 353.1Q501.5 326.7 539.4 336.2" stroke="rgb(51,150,159)" stroke-width="0.50"/>
<path d="M472.8 353.1Q490.4 371.6 515.5 367.1" stroke="rgb(41,163,138)" stroke-width="0.48"/>
<path d="M472.8 353.1Q527.9 348.7 554.4 300.3" stroke="rgb(51,150,159)" stroke-width="0.41"/>
<path d="M472.8 353.1Q515.8 300.6 583.3 307.8" stroke="rgb(67,138,183)" stroke-width="0.39"/>
<path d="M472.8 353.1Q540.0 375.3 595.4 331.2" stroke="rgb(76,127,190)" stroke-width="0.38"/>
<path d="M472.8 353.1Q520.1 324.3 570.2 348.0" stroke="rgb(73,130,188)" stroke-width="0.37"/>
<path d="M472.8 353.1Q457.5 341.8 439.7 348.3" stroke="rgb(78,123,192)" stroke-width="0.36"/>
<path d="M472.8 353.1Q534.9 284.2 626.5 298.3" stroke="rgb(94,105,207)" stroke-width="0.35"/>
<path d="M472.8 353.1Q549.5 319.1 563.2 236.3" stroke="rgb(73,130,188)" stroke-width="0.33"/>
<path d="M472.8 353.1Q456.2 296.9 400.2 280.0" stroke="rgb(113,206,88)" stroke-width="0.31"/>
<path d="M472.8 353.1Q424.7 369.8 384.4 338.7" stroke="rgb(61,190,114)" stroke-width="0.31"/>
<path d="M539.4 336.2Q535.8 358.1 515.5 367.1" stroke="rgb(43,166,135)" stroke-width="0.45"/>
<path d="M539.4 336.2Q455.7 327.4 417.1 252.6" stroke="rgb(53,149,162)" stroke-width="0.42"/>
<path d="M539.4 336.2Q508.7 280.7 445.4 276.0" stroke="rgb(53,149,162)" stroke-width="0.41"/>
<path d="M539.4 336.2Q569.0 333.9 583.3 307.8" stroke="rgb(64,140,180)" stroke-width="0.38"/>
<path d="M539.4 336.2Q566.0 318.6 595.4 331.2" stroke="rgb(73,130,188)" stroke-width="0.37"/>
<path d="M539.4 336.2Q492.8 369.2 439.7 348.3" stroke="rgb(76,127,190)" stroke-width="0.35"/>
<path d="M539.4 336.2Q532.3 405.6 470.3 437.7" stroke="rgb(92,107,204)" stroke-width="0.34"/>
<path d="M539.4 336.2Q541.6 272.2 489.4 235.3" stroke="rgb(95,104,208)" stroke-width="0.33"/>
<path d="M539.4 336.2Q524.3 279.8 563.2 236.3" stroke="rgb(71,133,186)" stroke-width="0.33"/>
<path d="M515.5 367.1Q497.2 283.3 417.1 252.6" stroke="rgb(49,153,155)" stroke-width="0.41"/>
<path d="M515.5 367.1Q455.9 340.5 445.4 276.0" stroke="rgb(49,153,155)" stroke-width="0.39"/>
<path d="M515.5 367.1Q553.0 344.2 554.4 300.3" stroke="rgb(45,156,149)" stroke-width="0.38"/>
<path d="M515.5 367.1Q533.4 319.1 583.3 307.8" stroke="rgb(60,144,172)" stroke-width="0.37"/>
<path d="M515.5 367.1Q482.7 337.2 439.7 348.3" stroke="rgb(70,134,185)" stroke-width="0.34"/>
<path d="M515.5 367.1Q552.4 302.7 626.5 298.3" stroke="rgb(88,111,200)" stroke-width="0.34"/>
<path d="M515.5 367.1Q473.8 390.2 470.3 437.7" stroke="rgb(88,112,200)" stroke-width="0.33"/>
<path d="M515.5 367.1Q459.4 330.7 398.2 357.6" stroke="rgb(119,208,85)" stroke-width="0.30"/>
<path d="M484.1 273.2Q526.6 267.8 554.4 300.3" stroke="rgb(50,151,158)" stroke-width="0.37"/>
<path d="M484.1 273.2Q405.2 285.9 372.6 358.8" stroke="rgb(160,218,66)" stroke-width="0.31"/>
<path d="M417.1 252.6Q472.9 313.5 554.4 300.3" stroke="rgb(50,151,158)" stroke-width="0.36"/>
<path d="M417.1 252.6Q393.7 359.5 470.3 437.7" stroke="rgb(93,106,205)" stroke-width="0.32"/>
<path d="M417.1 252.6Q426.1 362.5 523.0 415.3" stroke="rgb(160,218,66)" stroke-width="0.31"/>
<path d="M445.4 276.0Q506.5 258.7 554.4 300.3" stroke="rgb(50,151,158)" stroke-width="0.35"/>
<path d="M445.4 276.0Q535.3 263.1 595.4 331.2" stroke="rgb(75,128,189)" stroke-width="0.34"/>
<path d="M445.4 276.0Q462.1 313.7 439.7 348.3" stroke="rgb(77,124,191)" stroke-width="0.33"/>
<path d="M445.4 276.0Q478.4 267.5 489.4 235.3" stroke="rgb(96,103,209)" stroke-width="0.31"/>
<path d="M445.4 276.0Q493.6 224.3 563.2 236.3" stroke="rgb(72,131,187)" stroke-width="0.31"/>
<path d="M554.4 300.3Q566.6 326.8 595.4 331.2" stroke="rgb(73,130,188)" stroke-width="0.33"/>
<path d="M554.4 300.3Q575.2 319.9 570.2 348.0" stroke="rgb(71,133,186)" stroke-width="0.33"/>
<path d="M554.4 300.3Q589.9 279.8 626.5 298.3" stroke="rgb(93,107,205)" stroke-width="0.32"/>
<path d="M583.3 307.8Q595.7 316.2 595.4 331.2" stroke="rgb(79,122,193)" stroke-width="0.33"/>
<path d="M583.3 307.8Q555.9 246.2 489.4 235.3" stroke="rgb(100,99,213)" stroke-width="0.31"/>
<path d="M583.3 307.8Q464.2 276.4 372.6 358.8" stroke="rgb(141,214,74)" stroke-width="0.30"/>
<path d="M595.4 331.2Q516.5 311.9 489.4 235.3" stroke="rgb(102,97,215)" stroke-width="0.30"/>
<path d="M595.4 331.2Q489.7 291.2 398.2 357.6" stroke="rgb(77,195,106)" stroke-width="0.29"/>
<path d="M570.2 348.0Q580.4 383.2 615.4 394.0" stroke="rgb(50,176,126)" stroke-width="0.30"/>
<path d="M570.2 348.0Q466.8 359.9 400.2 280.0" stroke="rgb(97,201,96)" stroke-width="0.29"/>
<path d="M570.2 348.0Q486.8 399.2 398.2 357.6" stroke="rgb(79,196,105)" stroke-width="0.29"/>
<path d="M439.7 348.3Q519.6 272.9 626.5 298.3" stroke="rgb(100,99,213)" stroke-width="0.30"/>
<path d="M439.7 348.3Q430.9 401.3 470.3 437.7" stroke="rgb(99,100,212)" stroke-width="0.30"/>
<path d="M439.7 348.3Q409.0 371.7 372.6 358.8" stroke="rgb(127,211,81)" stroke-width="0.29"/>
<path d="M439.7 348.3Q409.5 358.4 384.4 338.7" stroke="rgb(54,182,122)" stroke-width="0.29"/>
<path d="M626.5 298.3Q586.0 410.2 470.3 437.7" stroke="rgb(103,96,217)" stroke-width="0.30"/>
<path d="M626.5 298.3Q575.0 229.8 489.4 235.3" stroke="rgb(107,92,221)" stroke-width="0.30"/>
<path d="M626.5 298.3Q494.5 253.1 384.4 338.7" stroke="rgb(49,175,128)" stroke-width="0.29"/>
<path d="M626.5 298.3Q528.4 389.6 398.2 357.6" stroke="rgb(59,189,115)" stroke-width="0.29"/>
<path d="M489.4 235.3Q409.0 258.6 384.4 338.7" stroke="rgb(48,173,129)" stroke-width="0.29"/>
<path d="M563.2 236.3Q494.8 314.9 523.0 415.3" stroke="rgb(133,212,78)" stroke-width="0.29"/>
<path d="M563.2 236.3Q447.9 252.4 398.2 357.6" stroke="rgb(79,196,105)" stroke-width="0.29"/>
<path d="M615.4 394.0Q514.8 304.0 384.4 338.7" stroke="rgb(100,202,94)" stroke-width="0.29"/>
<path d="M523.0 415.3Q498.1 314.5 400.2 280.0" stroke="rgb(211,227,50)" stroke-width="0.29"/>
<path d="M523.0 415.3Q433.0 414.4 384.4 338.7" stroke="rgb(138,213,76)" stroke-width="0.28"/>
<path d="M372.6 358.8Q385.1 351.3 398.2 357.6" stroke="rgb(189,224,53)" stroke-width="0.28"/>
</g>
<circle cx="496.7" cy="341.3" r="8.8" fill="rgb(63,142,177)" fill-opacity="0.88"/>
<circle cx="487.4" cy="316.6" r="6.5" fill="rgb(66,140,182)" fill-opacity="0.88"/>
<circle cx="448.4" cy="303.6" r="4.5" fill="rgb(90,109,202)" fill-opacity="0.88"/>
<circle cx="516.8" cy="288.0" r="4.5" fill="rgb(48,173,130)" fill-opacity="0.88"/>
<circle cx="411.3" cy="321.1" r="4.5" fill="rgb(213,227,50)" fill-opacity="0.88"/>
<circle cx="560.7" cy="377.2" r="4.3" fill="rgb(61,143,175)" fill-opacity="0.88"/>
<circle cx="410.0" cy="389.0" r="3.5" fill="rgb(92,200,98)" fill-opacity="0.88"/>
<circle cx="491.6" cy="402.0" r="3.5" fill="rgb(53,180,123)" fill-opacity="0.88"/>
<circle cx="523.5" cy="314.4" r="3.5" fill="rgb(42,159,144)" fill-opacity="0.88"/>
<circle cx="472.8" cy="353.1" r="3.3" fill="rgb(57,146,168)" fill-opacity="0.88"/>
<circle cx="539.4" cy="336.2" r="3.0" fill="rgb(49,152,156)" fill-opacity="0.88"/>
<circle cx="515.5" cy="367.1" r="3.0" fill="rgb(48,173,130)" fill-opacity="0.88"/>
<circle cx="484.1" cy="273.2" r="2.2" fill="rgb(54,148,164)" fill-opacity="0.88"/>
<circle cx="417.1" cy="252.6" r="2.0" fill="rgb(54,148,164)" fill-opacity="0.88"/>
<circle cx="445.4" cy="276.0" r="1.6" fill="rgb(54,148,164)" fill-opacity="0.88"/>
<circle cx="554.4" cy="300.3" r="1.8" fill="rgb(49,152,156)" fill-opacity="0.88"/>
<circle cx="583.3" cy="307.8" r="1.8" fill="rgb(71,133,186)" fill-opacity="0.88"/>
<circle cx="595.4" cy="331.2" r="1.6" fill="rgb(82,118,195)" fill-opacity="0.88"/>
<circle cx="570.2" cy="348.0" r="1.6" fill="rgb(79,122,193)" fill-opacity="0.88"/>
<circle cx="439.7" cy="348.3" r="1.6" fill="rgb(86,114,198)" fill-opacity="0.88"/>
<circle cx="626.5" cy="298.3" r="1.3" fill="rgb(104,95,218)" fill-opacity="0.88"/>
<circle cx="470.3" cy="437.7" r="1.3" fill="rgb(103,96,216)" fill-opacity="0.88"/>
<circle cx="489.4" cy="235.3" r="1.2" fill="rgb(108,92,222)" fill-opacity="0.88"/>
<circle cx="563.2" cy="236.3" r="1.0" fill="rgb(79,122,193)" fill-opacity="0.88"/>
<circle cx="615.4" cy="394.0" r="1.2" fill="rgb(83,197,103)" fill-opacity="0.88"/>
<circle cx="523.0" cy="415.3" r="1.2" fill="rgb(250,232,50)" fill-opacity="0.88"/>
<circle cx="372.6" cy="358.8" r="1.3" fill="rgb(250,232,50)" fill-opacity="0.88"/>
<circle cx="400.2" cy="280.0" r="1.3" fill="rgb(198,226,50)" fill-opacity="0.88"/>
<circle cx="384.4" cy="338.7" r="1.0" fill="rgb(106,204,91)" fill-opacity="0.88"/>
<circle cx="398.2" cy="357.6" r="1.0" fill="rgb(163,219,65)" fill-opacity="0.88"/>
<g font-family="&quot;Liberation Sans&quot;, sans-serif" text-anchor="middle" fill="#1a1a1a">
<text x="496.7" y="344.2" font-size="8.3">USA</text>
<text x="487.4" y="319.3" font-size="7.8">Germany</text>
<text x="448.4" y="306.0" font-size="7.0">Australia</text>
<text x="516.8" y="290.2" font-size="6.2">England</text>
<text x="411.3" y="323.3" font-size="6.2">China</text>
<text x="560.7" y="379.3" font-size="6.1">Netherlands</text>
<text x="410.0" y="390.9" font-size="5.3">Japan</text>
<text x="491.6" y="403.8" font-size="5.1">Greece</text>
<text x="523.5" y="316.4" font-size="5.8">Poland</text>
<text x="472.8" y="354.9" font-size="5.1">Italy</text>
<text x="539.4" y="338.1" font-size="5.5">Belgium</text>
<text x="515.5" y="368.9" font-size="5.2">France</text>
<text x="484.1" y="274.9" font-size="4.9">Spain</text>
<text x="417.1" y="254.5" font-size="5.4">Brazil</text>
<text x="445.4" y="277.9" font-size="5.4">Austria</text>
<text x="554.4" y="302.1" font-size="5.1">Switzerland</text>
<text x="583.3" y="309.5" font-size="4.9">Sweden</text>
<text x="595.4" y="332.9" font-size="4.8">Czech Republic</text>
<text x="570.2" y="349.7" font-size="5.0">Norway</text>
<text x="439.7" y="350.0" font-size="4.9">Ireland</text>
<text x="626.5" y="299.9" font-size="4.7">Denmark</text>
<text x="470.3" y="439.4" font-size="5.0">Canada</text>
<text x="489.4" y="237.0" font-size="4.9">New Zealand</text>
<text x="563.2" y="237.9" font-size="4.5">Romania</text>
<text x="615.4" y="395.5" font-size="4.3">Russia</text>
<text x="523.0" y="416.9" font-size="4.6">Monaco</text>
<text x="372.6" y="360.4" font-size="4.5">South Korea</text>
<text x="400.2" y="281.6" font-size="4.7">Portugal</text>
<text x="384.4" y="340.3" font-size="4.5">Malaysia</text>
<text x="398.2" y="359.1" font-size="4.3">India</text>
</g>
<rect x="552.7" y="432.4" width="136" height="19.5" rx="3.5" fill="#fff" stroke="#d0d0d0" stroke-width="0.6"/>
<rect x="556.2" y="435.4" width="123.8" height="7" fill="url(#vir)"/>
<path d="M562.7 442.4V445M599.6 442.4V445M636.5 442.4V445M673.4 442.4V445" stroke="#666" stroke-width="0.4"/>
<g font-family="&quot;Liberation Sans&quot;, sans-serif" font-size="5" fill="#333" text-anchor="middle"><text x="562.7" y="449.9">2016</text><text x="599.6" y="449.9">2017</text><text x="636.5" y="449.9">2018</text><text x="673.4" y="449.9">2019</text></g>
<rect x="330" y="432.4" width="42.6" height="20" rx="4" fill="#fff" stroke="#d8d8d8" stroke-width="0.6"/>
<rect x="329" y="431" width="19" height="22" fill="#fff"/>
<text x="349" y="444.9" font-family="&quot;Liberation Sans&quot;, sans-serif" font-size="7.2" fill="#555">iewer</text>
<g font-family="&quot;Liberation Sans&quot;, sans-serif" font-weight="bold" font-size="16.5" fill="#000"><text x="1" y="30.2">A</text><text x="387.6" y="29.7">B</text><text x="0.9" y="266.9">C</text><text x="387.5" y="266.9">D</text></g>
<rect x="7.3" y="201" width="73" height="25.4" rx="4" fill="#fff" stroke="#d8d8d8" stroke-width="0.7"/>
<g><path d="M18.4 207.2C20.5 207.2 21.2 210.5 21.6 213.2C22.5 215.6 26 216.8 26 218.8C25.5 220.3 23.2 219.6 21.4 218.3C20.2 217.2 19.3 216.6 18.6 217.5C18 219.5 17.2 221.4 15.6 221.2C14 220.8 14.3 218.4 15 216.4C15.8 213.6 16 207.4 18.4 207.2Z" fill="#19c8e0"/>
<path d="M18.4 208.5C19.8 208.6 20.2 211.2 20.5 213.6C21.2 215.9 24.6 217.2 24.7 218.5C24.2 219.2 22.8 218.4 21.6 217.4C20.3 216.2 19.2 215.4 18.1 216.5C17.3 218 16.9 220 15.8 220C15 219.6 15.4 218 15.9 216.4C16.7 213.8 16.9 208.7 18.4 208.5Z" fill="#7fe04a"/>
<path d="M18.4 209.8C19.3 209.9 19.5 212 19.6 213.6C19.3 215 18 215.2 17.4 216.6C17 217.8 16.6 219.2 16.1 219C15.9 218 16.5 216.6 16.9 215.2C17.3 213 17.5 209.9 18.4 209.8Z" fill="#ffe030"/>
<ellipse cx="18.5" cy="212" rx="0.9" ry="1.7" fill="#e8281e"/><ellipse cx="23" cy="217.8" rx="1.2" ry="0.6" fill="#ffe030"/></g>
<text x="28.2" y="216.8" font-family="&quot;Liberation Sans&quot;, sans-serif" font-size="8.7" fill="#555">VOSviewer</text>
</svg></body></html>
